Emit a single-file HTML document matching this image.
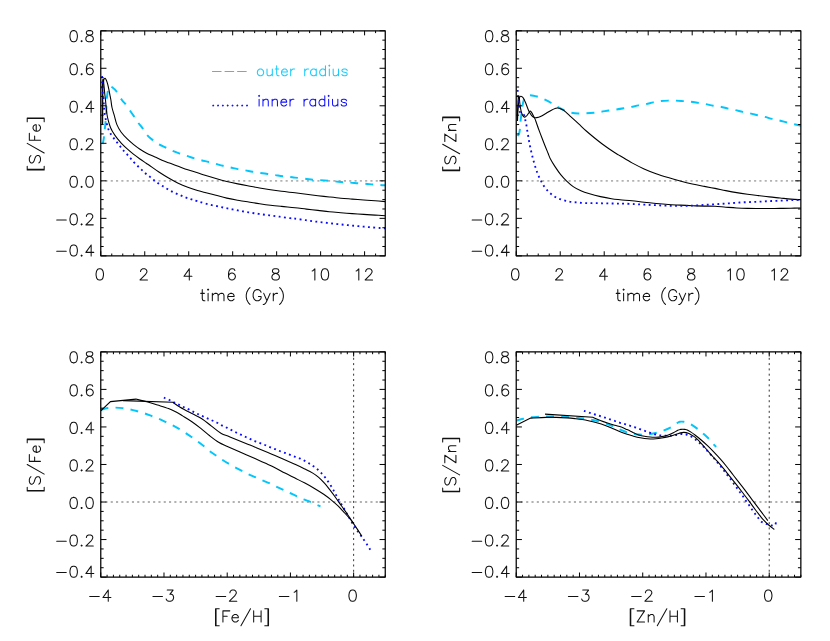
<!DOCTYPE html>
<html><head><meta charset="utf-8"><title>chart</title>
<style>html,body{margin:0;padding:0;background:#fff;font-family:"Liberation Sans",sans-serif}
svg{display:block}
.t{fill:none;stroke:#111;stroke-width:1.05;stroke-linecap:round;stroke-linejoin:round}
</style></head><body>
<svg width="830" height="641" viewBox="0 0 830 641">
<rect width="830" height="641" fill="#fff"/>
<path d="M100.77 180.83 H385.25" stroke="#b2b2b2" stroke-width="1.9" stroke-dasharray="2.1 3.2" stroke-dashoffset="0.65" fill="none"/>
<g clip-path="url(#c0)" fill="none">
<clipPath id="c0"><rect x="100.77" y="30.75" width="284.48" height="225.12"/></clipPath>
<path d="M102.70 144.00C102.88 143.07 103.47 140.73 103.80 138.40C104.13 136.07 104.42 132.65 104.70 130.00C104.98 127.35 105.25 125.17 105.50 122.50C105.75 119.83 106.00 117.75 106.20 114.00C106.40 110.25 106.47 103.58 106.70 100.00C106.93 96.42 107.28 94.50 107.60 92.50C107.92 90.50 108.23 89.05 108.60 88.00C108.97 86.95 109.35 86.43 109.80 86.20C110.25 85.97 110.63 86.20 111.30 86.60C111.97 87.00 112.93 87.78 113.80 88.60C114.67 89.42 115.15 89.60 116.50 91.50C117.85 93.40 120.47 97.97 121.90 100.00C123.33 102.03 123.78 101.98 125.10 103.70C126.42 105.42 128.32 108.18 129.80 110.30C131.28 112.42 132.58 114.30 134.00 116.40C135.42 118.50 136.88 120.95 138.30 122.90C139.72 124.85 141.03 126.07 142.50 128.10C143.97 130.13 145.38 133.10 147.10 135.10C148.82 137.10 150.83 138.57 152.80 140.10C154.77 141.63 156.75 143.07 158.90 144.30C161.05 145.53 163.45 146.42 165.70 147.50C167.95 148.58 170.08 149.80 172.40 150.80C174.72 151.80 177.18 152.65 179.60 153.50C182.02 154.35 184.57 155.13 186.90 155.90C189.23 156.67 191.20 157.38 193.60 158.10C196.00 158.82 198.77 159.55 201.30 160.20C203.83 160.85 206.37 161.38 208.80 162.00C211.23 162.62 213.53 163.27 215.90 163.90C218.27 164.53 220.53 165.20 223.00 165.80C225.47 166.40 228.23 166.95 230.70 167.50C233.17 168.05 235.35 168.62 237.80 169.10C240.25 169.58 242.92 169.95 245.40 170.40C247.88 170.85 250.23 171.38 252.70 171.80C255.17 172.22 257.68 172.53 260.20 172.90C262.72 173.27 265.27 173.63 267.80 174.00C270.33 174.37 272.90 174.73 275.40 175.10C277.90 175.47 280.33 175.88 282.80 176.20C285.27 176.52 288.17 176.77 290.20 177.00C292.23 177.23 292.48 177.32 295.00 177.60C297.52 177.88 302.35 178.35 305.30 178.70C308.25 179.05 310.18 179.47 312.70 179.70C315.22 179.93 317.82 179.93 320.40 180.10C322.98 180.27 325.67 180.48 328.20 180.70C330.73 180.92 333.12 181.15 335.60 181.40C338.08 181.65 340.58 182.00 343.10 182.20C345.62 182.40 348.22 182.42 350.70 182.60C353.18 182.78 355.52 183.12 358.00 183.30C360.48 183.48 363.08 183.50 365.60 183.70C368.12 183.90 370.65 184.30 373.10 184.50C375.55 184.70 378.25 184.75 380.30 184.90C382.35 185.05 384.55 185.32 385.40 185.40" stroke="#00c6fb" stroke-width="1.95" stroke-dasharray="7.9 7.19"/>
<path d="M102.65 124.00C102.66 121.67 102.68 114.83 102.70 110.00C102.72 105.17 102.74 99.17 102.80 95.00C102.86 90.83 102.92 87.45 103.05 85.00C103.18 82.55 103.39 81.35 103.60 80.30C103.81 79.25 104.07 79.03 104.30 78.70C104.53 78.37 104.72 78.17 105.00 78.30C105.28 78.43 105.68 78.93 106.00 79.50C106.32 80.07 106.55 80.63 106.90 81.70C107.25 82.77 107.75 84.50 108.10 85.90C108.45 87.30 108.70 88.62 109.00 90.10C109.30 91.58 109.58 93.15 109.90 94.80C110.22 96.45 110.55 97.88 110.90 100.00C111.25 102.12 111.42 104.85 112.00 107.50C112.58 110.15 113.58 113.05 114.40 115.90C115.22 118.75 115.77 121.88 116.90 124.60C118.03 127.32 119.43 129.77 121.20 132.20C122.97 134.63 125.42 137.13 127.50 139.20C129.58 141.27 131.62 142.93 133.70 144.60C135.78 146.27 137.92 147.82 140.00 149.20C142.08 150.58 143.70 151.60 146.20 152.90C148.70 154.20 152.37 155.78 155.00 157.00C157.63 158.22 159.73 159.23 162.00 160.20C164.27 161.17 165.90 161.78 168.60 162.80C171.30 163.82 175.00 165.13 178.20 166.30C181.40 167.47 184.58 168.72 187.80 169.80C191.02 170.88 194.63 171.88 197.50 172.80C200.37 173.72 201.93 174.33 205.00 175.30C208.07 176.27 212.27 177.57 215.90 178.60C219.53 179.63 223.15 180.62 226.80 181.50C230.45 182.38 234.15 183.15 237.80 183.90C241.45 184.65 245.07 185.32 248.70 186.00C252.33 186.68 255.97 187.37 259.60 188.00C263.23 188.63 266.85 189.25 270.50 189.80C274.15 190.35 277.42 190.80 281.50 191.30C285.58 191.80 290.85 192.32 295.00 192.80C299.15 193.28 302.58 193.72 306.40 194.20C310.22 194.68 314.08 195.23 317.90 195.70C321.72 196.17 325.48 196.58 329.30 197.00C333.12 197.42 336.98 197.85 340.80 198.20C344.62 198.55 348.38 198.80 352.20 199.10C356.02 199.40 359.88 199.72 363.70 200.00C367.52 200.28 371.48 200.53 375.10 200.80C378.72 201.07 383.68 201.47 385.40 201.60" stroke="#000" stroke-width="1.08"/>
<path d="M102.20 124.00C102.21 121.67 102.23 114.83 102.25 110.00C102.27 105.17 102.27 99.00 102.30 95.00C102.33 91.00 102.33 88.40 102.40 86.00C102.47 83.60 102.60 81.75 102.70 80.60C102.80 79.45 102.90 79.33 103.00 79.10C103.10 78.87 103.20 78.88 103.30 79.20C103.40 79.52 103.52 80.20 103.60 81.00C103.68 81.80 103.68 82.72 103.80 84.00C103.92 85.28 104.13 86.98 104.30 88.70C104.47 90.42 104.60 92.42 104.80 94.30C105.00 96.18 105.30 98.12 105.50 100.00C105.70 101.88 105.77 103.27 106.00 105.60C106.23 107.93 106.52 111.50 106.90 114.00C107.28 116.50 107.68 118.30 108.30 120.60C108.92 122.90 109.82 125.85 110.60 127.80C111.38 129.75 112.27 131.03 113.00 132.30C113.73 133.57 114.17 134.23 115.00 135.40C115.83 136.57 116.97 138.02 118.00 139.30C119.03 140.58 119.62 141.45 121.20 143.10C122.78 144.75 125.42 147.32 127.50 149.20C129.58 151.08 131.62 152.77 133.70 154.40C135.78 156.03 137.92 157.53 140.00 159.00C142.08 160.47 144.65 162.15 146.20 163.20C147.75 164.25 147.18 163.83 149.30 165.30C151.42 166.77 155.68 169.88 158.90 172.00C162.12 174.12 165.38 176.13 168.60 178.00C171.82 179.87 175.00 181.67 178.20 183.20C181.40 184.73 184.58 186.00 187.80 187.20C191.02 188.40 194.63 189.53 197.50 190.40C200.37 191.27 201.93 191.58 205.00 192.40C208.07 193.22 212.27 194.35 215.90 195.30C219.53 196.25 223.15 197.28 226.80 198.10C230.45 198.92 234.15 199.55 237.80 200.20C241.45 200.85 245.07 201.42 248.70 202.00C252.33 202.58 255.97 203.17 259.60 203.70C263.23 204.23 266.85 204.75 270.50 205.20C274.15 205.65 277.42 205.98 281.50 206.40C285.58 206.82 290.85 207.25 295.00 207.70C299.15 208.15 302.58 208.65 306.40 209.10C310.22 209.55 314.08 209.97 317.90 210.40C321.72 210.83 325.48 211.32 329.30 211.70C333.12 212.08 336.98 212.38 340.80 212.70C344.62 213.02 348.38 213.32 352.20 213.60C356.02 213.88 359.88 214.15 363.70 214.40C367.52 214.65 371.48 214.88 375.10 215.10C378.72 215.32 383.68 215.60 385.40 215.70" stroke="#000" stroke-width="1.08"/>
<path d="M102.08 76.08C102.09 76.23 102.08 75.93 102.10 77.00C102.12 78.07 102.17 80.70 102.20 82.50C102.23 84.30 102.22 86.07 102.30 87.80C102.38 89.53 102.50 91.15 102.70 92.90C102.90 94.65 103.32 96.50 103.50 98.30C103.68 100.10 103.70 101.93 103.80 103.70C103.90 105.47 103.97 107.18 104.10 108.90C104.23 110.62 104.33 112.28 104.60 114.00C104.87 115.72 105.32 117.48 105.70 119.20C106.08 120.92 106.43 122.58 106.90 124.30C107.37 126.02 107.83 127.85 108.50 129.50C109.17 131.15 110.00 132.72 110.90 134.20C111.80 135.68 112.85 137.00 113.90 138.40C114.95 139.80 116.10 141.20 117.20 142.60C118.30 144.00 119.38 145.40 120.50 146.80C121.62 148.20 122.73 149.67 123.90 151.00C125.07 152.33 126.32 153.50 127.50 154.80C128.68 156.10 129.87 157.48 131.00 158.80C132.13 160.12 133.10 161.42 134.30 162.70C135.50 163.98 136.92 165.27 138.20 166.50C139.48 167.73 140.72 168.90 142.00 170.10C143.28 171.30 144.57 172.57 145.90 173.70C147.23 174.83 148.63 175.80 150.00 176.90C151.37 178.00 152.70 179.22 154.10 180.30C155.50 181.38 156.92 182.40 158.40 183.40C159.88 184.40 161.50 185.37 163.00 186.30C164.50 187.23 165.88 188.12 167.40 189.00C168.92 189.88 170.52 190.80 172.10 191.60C173.68 192.40 175.28 193.08 176.90 193.80C178.52 194.52 180.17 195.23 181.80 195.90C183.43 196.57 185.05 197.22 186.70 197.80C188.35 198.38 189.82 198.80 191.70 199.40C193.58 200.00 195.52 200.65 198.00 201.40C200.48 202.15 203.43 203.10 206.60 203.90C209.77 204.70 213.53 205.45 217.00 206.20C220.47 206.95 223.93 207.70 227.40 208.40C230.87 209.10 234.32 209.75 237.80 210.40C241.28 211.05 244.82 211.72 248.30 212.30C251.78 212.88 255.22 213.40 258.70 213.90C262.18 214.40 265.70 214.83 269.20 215.30C272.70 215.77 276.20 216.22 279.70 216.70C283.20 217.18 287.65 217.88 290.20 218.20C292.75 218.52 292.38 218.27 295.00 218.60C297.62 218.93 302.32 219.68 305.90 220.20C309.48 220.72 312.98 221.25 316.50 221.70C320.02 222.15 323.48 222.50 327.00 222.90C330.52 223.30 334.08 223.72 337.60 224.10C341.12 224.48 344.60 224.85 348.10 225.20C351.60 225.55 355.08 225.87 358.60 226.20C362.12 226.53 365.68 226.90 369.20 227.20C372.72 227.50 377.00 227.80 379.70 228.00C382.40 228.20 384.29 228.32 385.40 228.40C386.51 228.48 386.19 228.46 386.35 228.47" stroke="#0a0aff" stroke-width="1.85" stroke-dasharray="1.85 3.44"/>
</g>
<path d="M100.77 255.87v-4.60M100.77 30.75v4.60M111.76 255.87v-2.35M111.76 30.75v2.35M122.75 255.87v-2.35M122.75 30.75v2.35M133.75 255.87v-2.35M133.75 30.75v2.35M144.74 255.87v-4.60M144.74 30.75v4.60M155.73 255.87v-2.35M155.73 30.75v2.35M166.72 255.87v-2.35M166.72 30.75v2.35M177.72 255.87v-2.35M177.72 30.75v2.35M188.71 255.87v-4.60M188.71 30.75v4.60M199.70 255.87v-2.35M199.70 30.75v2.35M210.69 255.87v-2.35M210.69 30.75v2.35M221.68 255.87v-2.35M221.68 30.75v2.35M232.68 255.87v-4.60M232.68 30.75v4.60M243.67 255.87v-2.35M243.67 30.75v2.35M254.66 255.87v-2.35M254.66 30.75v2.35M265.65 255.87v-2.35M265.65 30.75v2.35M276.65 255.87v-4.60M276.65 30.75v4.60M287.64 255.87v-2.35M287.64 30.75v2.35M298.63 255.87v-2.35M298.63 30.75v2.35M309.62 255.87v-2.35M309.62 30.75v2.35M320.62 255.87v-4.60M320.62 30.75v4.60M331.61 255.87v-2.35M331.61 30.75v2.35M342.60 255.87v-2.35M342.60 30.75v2.35M353.59 255.87v-2.35M353.59 30.75v2.35M364.58 255.87v-4.60M364.58 30.75v4.60M375.58 255.87v-2.35M375.58 30.75v2.35M100.77 255.87h5.70M385.25 255.87h-5.70M100.77 246.49h2.90M385.25 246.49h-2.90M100.77 237.11h2.90M385.25 237.11h-2.90M100.77 227.73h2.90M385.25 227.73h-2.90M100.77 218.35h5.70M385.25 218.35h-5.70M100.77 208.97h2.90M385.25 208.97h-2.90M100.77 199.59h2.90M385.25 199.59h-2.90M100.77 190.21h2.90M385.25 190.21h-2.90M100.77 180.83h5.70M385.25 180.83h-5.70M100.77 171.45h2.90M385.25 171.45h-2.90M100.77 162.07h2.90M385.25 162.07h-2.90M100.77 152.69h2.90M385.25 152.69h-2.90M100.77 143.31h5.70M385.25 143.31h-5.70M100.77 133.93h2.90M385.25 133.93h-2.90M100.77 124.55h2.90M385.25 124.55h-2.90M100.77 115.17h2.90M385.25 115.17h-2.90M100.77 105.79h5.70M385.25 105.79h-5.70M100.77 96.41h2.90M385.25 96.41h-2.90M100.77 87.03h2.90M385.25 87.03h-2.90M100.77 77.65h2.90M385.25 77.65h-2.90M100.77 68.27h5.70M385.25 68.27h-5.70M100.77 58.89h2.90M385.25 58.89h-2.90M100.77 49.51h2.90M385.25 49.51h-2.90M100.77 40.13h2.90M385.25 40.13h-2.90M100.77 30.75h5.70M385.25 30.75h-5.70" stroke="#000" stroke-width="1.00" fill="none"/>
<rect x="100.77" y="30.75" width="284.48" height="225.12" fill="none" stroke="#000" stroke-width="1.25" stroke-linejoin="round"/>
<path d="M99.24 268.84L97.65 269.37L96.59 270.96L96.06 273.61L96.06 275.20L96.59 277.85L97.65 279.44L99.24 279.97L100.30 279.97L101.89 279.44L102.95 277.85L103.48 275.20L103.48 273.61L102.95 270.96L101.89 269.37L100.30 268.84L99.24 268.84M140.56 271.49L140.56 270.96L141.09 269.90L141.62 269.37L142.68 268.84L144.80 268.84L145.86 269.37L146.39 269.90L146.92 270.96L146.92 272.02L146.39 273.08L145.33 274.67L140.03 279.97L147.45 279.97M189.30 268.84L184.00 276.26L191.95 276.26M189.30 268.84L189.30 279.97M234.86 270.43L234.33 269.37L232.74 268.84L231.68 268.84L230.09 269.37L229.03 270.96L228.50 273.61L228.50 276.26L229.03 278.38L230.09 279.44L231.68 279.97L232.21 279.97L233.80 279.44L234.86 278.38L235.39 276.79L235.39 276.26L234.86 274.67L233.80 273.61L232.21 273.08L231.68 273.08L230.09 273.61L229.03 274.67L228.50 276.26M274.59 268.84L273.00 269.37L272.47 270.43L272.47 271.49L273.00 272.55L274.06 273.08L276.18 273.61L277.77 274.14L278.83 275.20L279.36 276.26L279.36 277.85L278.83 278.91L278.30 279.44L276.71 279.97L274.59 279.97L273.00 279.44L272.47 278.91L271.94 277.85L271.94 276.26L272.47 275.20L273.53 274.14L275.12 273.61L277.24 273.08L278.30 272.55L278.83 271.49L278.83 270.43L278.30 269.37L276.71 268.84L274.59 268.84M312.20 270.96L313.26 270.43L314.85 268.84L314.85 279.97M324.39 268.84L322.80 269.37L321.74 270.96L321.21 273.61L321.21 275.20L321.74 277.85L322.80 279.44L324.39 279.97L325.45 279.97L327.04 279.44L328.10 277.85L328.63 275.20L328.63 273.61L328.10 270.96L327.04 269.37L325.45 268.84L324.39 268.84M356.16 270.96L357.22 270.43L358.81 268.84L358.81 279.97M365.70 271.49L365.70 270.96L366.23 269.90L366.76 269.37L367.82 268.84L369.94 268.84L371.00 269.37L371.53 269.90L372.06 270.96L372.06 272.02L371.53 273.08L370.47 274.67L365.17 279.97L372.59 279.97M73.14 30.62L71.55 31.15L70.49 32.74L69.96 35.39L69.96 36.98L70.49 39.63L71.55 41.22L73.14 41.75L74.20 41.75L75.79 41.22L76.85 39.63L77.38 36.98L77.38 35.39L76.85 32.74L75.79 31.15L74.20 30.62L73.14 30.62M81.62 40.69L81.09 41.22L81.62 41.75L82.15 41.22L81.62 40.69M88.51 30.62L86.92 31.15L86.39 32.21L86.39 33.27L86.92 34.33L87.98 34.86L90.10 35.39L91.69 35.92L92.75 36.98L93.28 38.04L93.28 39.63L92.75 40.69L92.22 41.22L90.63 41.75L88.51 41.75L86.92 41.22L86.39 40.69L85.86 39.63L85.86 38.04L86.39 36.98L87.45 35.92L89.04 35.39L91.16 34.86L92.22 34.33L92.75 33.27L92.75 32.21L92.22 31.15L90.63 30.62L88.51 30.62M73.14 63.64L71.55 64.17L70.49 65.76L69.96 68.41L69.96 70.00L70.49 72.65L71.55 74.24L73.14 74.77L74.20 74.77L75.79 74.24L76.85 72.65L77.38 70.00L77.38 68.41L76.85 65.76L75.79 64.17L74.20 63.64L73.14 63.64M81.62 73.71L81.09 74.24L81.62 74.77L82.15 74.24L81.62 73.71M92.75 65.23L92.22 64.17L90.63 63.64L89.57 63.64L87.98 64.17L86.92 65.76L86.39 68.41L86.39 71.06L86.92 73.18L87.98 74.24L89.57 74.77L90.10 74.77L91.69 74.24L92.75 73.18L93.28 71.59L93.28 71.06L92.75 69.47L91.69 68.41L90.10 67.88L89.57 67.88L87.98 68.41L86.92 69.47L86.39 71.06M73.14 101.16L71.55 101.69L70.49 103.28L69.96 105.93L69.96 107.52L70.49 110.17L71.55 111.76L73.14 112.29L74.20 112.29L75.79 111.76L76.85 110.17L77.38 107.52L77.38 105.93L76.85 103.28L75.79 101.69L74.20 101.16L73.14 101.16M81.62 111.23L81.09 111.76L81.62 112.29L82.15 111.76L81.62 111.23M91.16 101.16L85.86 108.58L93.81 108.58M91.16 101.16L91.16 112.29M73.14 138.68L71.55 139.21L70.49 140.80L69.96 143.45L69.96 145.04L70.49 147.69L71.55 149.28L73.14 149.81L74.20 149.81L75.79 149.28L76.85 147.69L77.38 145.04L77.38 143.45L76.85 140.80L75.79 139.21L74.20 138.68L73.14 138.68M81.62 148.75L81.09 149.28L81.62 149.81L82.15 149.28L81.62 148.75M86.39 141.33L86.39 140.80L86.92 139.74L87.45 139.21L88.51 138.68L90.63 138.68L91.69 139.21L92.22 139.74L92.75 140.80L92.75 141.86L92.22 142.92L91.16 144.51L85.86 149.81L93.28 149.81M73.14 176.20L71.55 176.73L70.49 178.32L69.96 180.97L69.96 182.56L70.49 185.21L71.55 186.80L73.14 187.33L74.20 187.33L75.79 186.80L76.85 185.21L77.38 182.56L77.38 180.97L76.85 178.32L75.79 176.73L74.20 176.20L73.14 176.20M81.62 186.27L81.09 186.80L81.62 187.33L82.15 186.80L81.62 186.27M89.04 176.20L87.45 176.73L86.39 178.32L85.86 180.97L85.86 182.56L86.39 185.21L87.45 186.80L89.04 187.33L90.10 187.33L91.69 186.80L92.75 185.21L93.28 182.56L93.28 180.97L92.75 178.32L91.69 176.73L90.10 176.20L89.04 176.20M56.71 220.08L66.25 220.08M73.14 213.72L71.55 214.25L70.49 215.84L69.96 218.49L69.96 220.08L70.49 222.73L71.55 224.32L73.14 224.85L74.20 224.85L75.79 224.32L76.85 222.73L77.38 220.08L77.38 218.49L76.85 215.84L75.79 214.25L74.20 213.72L73.14 213.72M81.62 223.79L81.09 224.32L81.62 224.85L82.15 224.32L81.62 223.79M86.39 216.37L86.39 215.84L86.92 214.78L87.45 214.25L88.51 213.72L90.63 213.72L91.69 214.25L92.22 214.78L92.75 215.84L92.75 216.90L92.22 217.96L91.16 219.55L85.86 224.85L93.28 224.85M56.71 251.30L66.25 251.30M73.14 244.94L71.55 245.47L70.49 247.06L69.96 249.71L69.96 251.30L70.49 253.95L71.55 255.54L73.14 256.07L74.20 256.07L75.79 255.54L76.85 253.95L77.38 251.30L77.38 249.71L76.85 247.06L75.79 245.47L74.20 244.94L73.14 244.94M81.62 255.01L81.09 255.54L81.62 256.07L82.15 255.54L81.62 255.01M91.16 244.94L85.86 252.36L93.81 252.36M91.16 244.94L91.16 256.07M202.26 289.64L202.26 298.65L202.79 300.24L203.85 300.77L204.91 300.77M200.67 293.35L204.38 293.35M207.56 289.64L208.09 290.17L208.62 289.64L208.09 289.11L207.56 289.64M208.09 293.35L208.09 300.77M212.33 293.35L212.33 300.77M212.33 295.47L213.92 293.88L214.98 293.35L216.57 293.35L217.63 293.88L218.16 295.47L218.16 300.77M218.16 295.47L219.75 293.88L220.81 293.35L222.40 293.35L223.46 293.88L223.99 295.47L223.99 300.77M227.70 296.53L234.06 296.53L234.06 295.47L233.53 294.41L233.00 293.88L231.94 293.35L230.35 293.35L229.29 293.88L228.23 294.94L227.70 296.53L227.70 297.59L228.23 299.18L229.29 300.24L230.35 300.77L231.94 300.77L233.00 300.24L234.06 299.18M249.96 287.52L248.90 288.58L247.84 290.17L246.78 292.29L246.25 294.94L246.25 297.06L246.78 299.71L247.84 301.83L248.90 303.42L249.96 304.48M261.09 292.29L260.56 291.23L259.50 290.17L258.44 289.64L256.32 289.64L255.26 290.17L254.20 291.23L253.67 292.29L253.14 293.88L253.14 296.53L253.67 298.12L254.20 299.18L255.26 300.24L256.32 300.77L258.44 300.77L259.50 300.24L260.56 299.18L261.09 298.12L261.09 296.53M258.44 296.53L261.09 296.53M263.74 293.35L266.92 300.77M270.10 293.35L266.92 300.77L265.86 302.89L264.80 303.95L263.74 304.48L263.21 304.48M273.28 293.35L273.28 300.77M273.28 296.53L273.81 294.94L274.87 293.88L275.93 293.35L277.52 293.35M279.64 287.52L280.70 288.58L281.76 290.17L282.82 292.29L283.35 294.94L283.35 297.06L282.82 299.71L281.76 301.83L280.70 303.42L279.64 304.48" class="t"/>
<path transform="translate(40.47 143.91) rotate(-90)" d="M-25.97 -13.25L-25.97 3.71M-25.44 -13.25L-25.44 3.71M-25.97 -13.25L-22.26 -13.25M-25.97 3.71L-22.26 3.71M-11.66 -9.54L-12.72 -10.60L-14.31 -11.13L-16.43 -11.13L-18.02 -10.60L-19.08 -9.54L-19.08 -8.48L-18.55 -7.42L-18.02 -6.89L-16.96 -6.36L-13.78 -5.30L-12.72 -4.77L-12.19 -4.24L-11.66 -3.18L-11.66 -1.59L-12.72 -0.53L-14.31 0.00L-16.43 0.00L-18.02 -0.53L-19.08 -1.59M0.53 -13.25L-9.01 3.71M3.71 -11.13L3.71 0.00M3.71 -11.13L10.60 -11.13M3.71 -5.83L7.95 -5.83M12.72 -4.24L19.08 -4.24L19.08 -5.30L18.55 -6.36L18.02 -6.89L16.96 -7.42L15.37 -7.42L14.31 -6.89L13.25 -5.83L12.72 -4.24L12.72 -3.18L13.25 -1.59L14.31 -0.53L15.37 0.00L16.96 0.00L18.02 -0.53L19.08 -1.59M25.44 -13.25L25.44 3.71M25.97 -13.25L25.97 3.71M22.26 -13.25L25.97 -13.25M22.26 3.71L25.97 3.71" class="t"/>
<path d="M516.23 180.83 H800.85" stroke="#b2b2b2" stroke-width="1.9" stroke-dasharray="2.1 3.2" stroke-dashoffset="0.65" fill="none"/>
<g clip-path="url(#c1)" fill="none">
<clipPath id="c1"><rect x="516.23" y="30.75" width="284.62" height="225.12"/></clipPath>
<path d="M517.40 135.90C517.65 135.63 518.48 135.40 518.90 134.30C519.32 133.20 519.63 131.45 519.90 129.30C520.17 127.15 520.25 123.88 520.50 121.40C520.75 118.92 521.08 116.93 521.40 114.40C521.72 111.87 521.98 108.65 522.40 106.20C522.82 103.75 523.30 101.27 523.90 99.70C524.50 98.13 525.32 97.48 526.00 96.80C526.68 96.12 527.30 95.85 528.00 95.60C528.70 95.35 529.28 95.28 530.20 95.30C531.12 95.32 532.37 95.50 533.50 95.70C534.63 95.90 535.75 96.13 537.00 96.50C538.25 96.87 539.77 97.43 541.00 97.90C542.23 98.37 542.68 98.45 544.40 99.30C546.12 100.15 549.13 101.73 551.30 103.00C553.47 104.27 555.30 105.70 557.40 106.90C559.50 108.10 561.63 109.25 563.90 110.20C566.17 111.15 568.53 112.05 571.00 112.60C573.47 113.15 576.18 113.38 578.70 113.50C581.22 113.62 583.55 113.43 586.10 113.30C588.65 113.17 591.50 112.95 594.00 112.70C596.50 112.45 598.65 112.17 601.10 111.80C603.55 111.43 606.18 110.88 608.70 110.50C611.22 110.12 613.70 109.87 616.20 109.50C618.70 109.13 621.18 108.73 623.70 108.30C626.22 107.87 628.83 107.38 631.30 106.90C633.77 106.42 636.03 105.87 638.50 105.40C640.97 104.93 643.63 104.60 646.10 104.10C648.57 103.60 650.85 102.90 653.30 102.40C655.75 101.90 658.30 101.40 660.80 101.10C663.30 100.80 665.80 100.68 668.30 100.60C670.80 100.52 673.30 100.52 675.80 100.60C678.30 100.68 680.78 100.92 683.30 101.10C685.82 101.28 688.38 101.40 690.90 101.70C693.42 102.00 695.93 102.50 698.40 102.90C700.87 103.30 703.23 103.63 705.70 104.10C708.17 104.57 710.72 105.27 713.20 105.70C715.68 106.13 718.12 106.22 720.60 106.70C723.08 107.18 725.65 108.03 728.10 108.60C730.55 109.17 732.85 109.55 735.30 110.10C737.75 110.65 740.33 111.35 742.80 111.90C745.27 112.45 747.63 112.85 750.10 113.40C752.57 113.95 755.15 114.62 757.60 115.20C760.05 115.78 762.35 116.28 764.80 116.90C767.25 117.52 769.85 118.30 772.30 118.90C774.75 119.50 777.03 119.90 779.50 120.50C781.97 121.10 784.63 121.87 787.10 122.50C789.57 123.13 791.98 123.77 794.30 124.30C796.62 124.83 799.88 125.47 801.00 125.70" stroke="#00c6fb" stroke-width="1.95" stroke-dasharray="7.9 7.19"/>
<path d="M517.30 121.00C517.35 119.17 517.47 113.50 517.60 110.00C517.73 106.50 517.95 102.20 518.10 100.00C518.25 97.80 518.37 97.48 518.50 96.80C518.63 96.12 518.77 95.78 518.90 95.90C519.03 96.02 519.13 96.20 519.30 97.50C519.47 98.80 519.60 101.42 519.90 103.70C520.20 105.98 520.63 109.22 521.10 111.20C521.57 113.18 522.13 114.62 522.70 115.60C523.27 116.58 523.95 116.97 524.50 117.10C525.05 117.23 525.52 116.75 526.00 116.40C526.48 116.05 526.77 115.82 527.40 115.00C528.03 114.18 529.27 112.12 529.80 111.50C530.33 110.88 530.23 111.03 530.60 111.30C530.97 111.57 531.50 112.28 532.00 113.10C532.50 113.92 533.10 115.23 533.60 116.20C534.10 117.17 534.48 117.65 535.00 118.90C535.52 120.15 536.15 122.15 536.70 123.70C537.25 125.25 537.48 125.98 538.30 128.20C539.12 130.42 540.52 134.17 541.60 137.00C542.68 139.83 543.72 142.48 544.80 145.20C545.88 147.92 547.18 151.05 548.10 153.30C549.02 155.55 549.12 156.43 550.30 158.70C551.48 160.97 553.47 164.25 555.20 166.90C556.93 169.55 558.78 172.23 560.70 174.60C562.62 176.97 564.62 179.10 566.70 181.10C568.78 183.10 570.83 184.98 573.20 186.60C575.57 188.22 578.17 189.60 580.90 190.80C583.63 192.00 586.33 192.83 589.60 193.80C592.87 194.77 596.85 195.78 600.50 196.60C604.15 197.42 608.25 198.18 611.50 198.70C614.75 199.22 616.58 199.35 620.00 199.70C623.42 200.05 627.98 200.37 632.00 200.80C636.02 201.23 640.08 201.85 644.10 202.30C648.12 202.75 652.08 203.13 656.10 203.50C660.12 203.87 664.18 204.23 668.20 204.50C672.22 204.77 676.18 204.90 680.20 205.10C684.22 205.30 688.28 205.53 692.30 205.70C696.32 205.87 700.52 206.00 704.30 206.10C708.08 206.20 711.42 206.12 715.00 206.30C718.58 206.48 722.18 206.92 725.80 207.20C729.42 207.48 733.08 207.80 736.70 208.00C740.32 208.20 743.88 208.32 747.50 208.40C751.12 208.48 754.78 208.48 758.40 208.50C762.02 208.52 765.58 208.52 769.20 208.50C772.82 208.48 776.48 208.45 780.10 208.40C783.72 208.35 787.43 208.27 790.90 208.20C794.37 208.13 799.23 208.03 800.90 208.00" stroke="#000" stroke-width="1.08"/>
<path d="M517.50 121.00C517.58 119.17 517.78 113.33 518.00 110.00C518.22 106.67 518.53 103.12 518.80 101.00C519.07 98.88 519.27 98.10 519.60 97.30C519.93 96.50 520.37 96.28 520.80 96.20C521.23 96.12 521.73 96.43 522.20 96.80C522.67 97.17 523.05 97.45 523.60 98.40C524.15 99.35 524.87 100.98 525.50 102.50C526.13 104.02 526.78 105.95 527.40 107.50C528.02 109.05 528.48 110.45 529.20 111.80C529.92 113.15 530.87 114.67 531.70 115.60C532.53 116.53 533.37 117.07 534.20 117.40C535.03 117.73 535.65 117.75 536.70 117.60C537.75 117.45 538.97 117.18 540.50 116.50C542.03 115.82 544.08 114.55 545.90 113.50C547.72 112.45 549.75 111.07 551.40 110.20C553.05 109.33 554.72 108.67 555.80 108.30C556.88 107.93 557.00 107.87 557.90 108.00C558.80 108.13 559.92 108.47 561.20 109.10C562.48 109.73 563.97 110.52 565.60 111.80C567.23 113.08 568.82 114.78 571.00 116.80C573.18 118.82 576.15 121.53 578.70 123.90C581.25 126.27 583.75 128.73 586.30 131.00C588.85 133.27 591.45 135.42 594.00 137.50C596.55 139.58 599.05 141.58 601.60 143.50C604.15 145.42 606.75 147.25 609.30 149.00C611.85 150.75 615.12 152.88 616.90 154.00C618.68 155.12 617.48 154.22 620.00 155.70C622.52 157.18 627.98 160.70 632.00 162.90C636.02 165.10 640.08 167.10 644.10 168.90C648.12 170.70 652.08 172.25 656.10 173.70C660.12 175.15 664.18 176.38 668.20 177.60C672.22 178.82 676.18 179.93 680.20 181.00C684.22 182.07 688.28 183.10 692.30 184.00C696.32 184.90 700.52 185.67 704.30 186.40C708.08 187.13 711.42 187.70 715.00 188.40C718.58 189.10 722.18 189.90 725.80 190.60C729.42 191.30 733.08 192.00 736.70 192.60C740.32 193.20 743.88 193.70 747.50 194.20C751.12 194.70 754.78 195.15 758.40 195.60C762.02 196.05 765.58 196.50 769.20 196.90C772.82 197.30 776.48 197.63 780.10 198.00C783.72 198.37 787.43 198.80 790.90 199.10C794.37 199.40 799.23 199.68 800.90 199.80" stroke="#000" stroke-width="1.08"/>
<path d="M517.66 89.98C517.67 90.13 517.66 89.88 517.70 90.90C517.74 91.92 517.73 94.37 517.90 96.10C518.07 97.83 518.48 99.57 518.70 101.30C518.92 103.03 519.00 104.75 519.20 106.50C519.40 108.25 519.37 110.63 519.90 111.80C520.43 112.97 521.63 112.82 522.40 113.50C523.17 114.18 523.98 114.65 524.50 115.90C525.02 117.15 525.15 119.28 525.50 121.00C525.85 122.72 526.28 124.47 526.60 126.20C526.92 127.93 527.12 129.67 527.40 131.40C527.68 133.13 528.00 134.87 528.30 136.60C528.60 138.33 528.88 140.07 529.20 141.80C529.52 143.53 529.85 145.30 530.20 147.00C530.55 148.70 530.90 150.30 531.30 152.00C531.70 153.70 532.15 155.47 532.60 157.20C533.05 158.93 533.52 160.68 534.00 162.40C534.48 164.12 534.97 165.83 535.50 167.50C536.03 169.17 536.58 170.77 537.20 172.40C537.82 174.03 538.47 175.70 539.20 177.30C539.93 178.90 540.75 180.45 541.60 182.00C542.45 183.55 543.30 185.15 544.30 186.60C545.30 188.05 546.42 189.43 547.60 190.70C548.78 191.97 550.03 193.12 551.40 194.20C552.77 195.28 554.25 196.33 555.80 197.20C557.35 198.07 559.03 198.80 560.70 199.40C562.37 200.00 564.08 200.38 565.80 200.80C567.52 201.22 569.25 201.63 571.00 201.90C572.75 202.17 574.55 202.23 576.30 202.40C578.05 202.57 579.75 202.78 581.50 202.90C583.25 203.02 585.05 203.05 586.80 203.10C588.55 203.15 590.25 203.18 592.00 203.20C593.75 203.22 595.55 203.18 597.30 203.20C599.05 203.22 600.77 203.27 602.50 203.30C604.23 203.33 605.95 203.37 607.70 203.40C609.45 203.43 611.25 203.47 613.00 203.50C614.75 203.53 616.43 203.58 618.20 203.60C619.97 203.62 620.93 203.52 623.60 203.60C626.27 203.68 630.65 203.92 634.20 204.10C637.75 204.28 641.35 204.52 644.90 204.70C648.45 204.88 651.97 205.03 655.50 205.20C659.03 205.37 662.58 205.58 666.10 205.70C669.62 205.82 673.08 205.88 676.60 205.90C680.12 205.92 683.68 205.90 687.20 205.80C690.72 205.70 694.18 205.48 697.70 205.30C701.22 205.12 704.75 204.92 708.30 204.70C711.85 204.48 715.48 204.23 719.00 204.00C722.52 203.77 725.90 203.55 729.40 203.30C732.90 203.05 736.47 202.72 740.00 202.50C743.53 202.28 747.08 202.15 750.60 202.00C754.12 201.85 757.58 201.77 761.10 201.60C764.62 201.43 768.18 201.17 771.70 201.00C775.22 200.83 778.67 200.75 782.20 200.60C785.73 200.45 789.78 200.22 792.90 200.10C796.02 199.98 799.57 199.93 800.90 199.90" stroke="#0a0aff" stroke-width="1.85" stroke-dasharray="1.85 3.44"/>
</g>
<path d="M516.23 255.87v-4.60M516.23 30.75v4.60M527.23 255.87v-2.35M527.23 30.75v2.35M538.23 255.87v-2.35M538.23 30.75v2.35M549.22 255.87v-2.35M549.22 30.75v2.35M560.22 255.87v-4.60M560.22 30.75v4.60M571.22 255.87v-2.35M571.22 30.75v2.35M582.22 255.87v-2.35M582.22 30.75v2.35M593.21 255.87v-2.35M593.21 30.75v2.35M604.21 255.87v-4.60M604.21 30.75v4.60M615.21 255.87v-2.35M615.21 30.75v2.35M626.21 255.87v-2.35M626.21 30.75v2.35M637.20 255.87v-2.35M637.20 30.75v2.35M648.20 255.87v-4.60M648.20 30.75v4.60M659.20 255.87v-2.35M659.20 30.75v2.35M670.20 255.87v-2.35M670.20 30.75v2.35M681.20 255.87v-2.35M681.20 30.75v2.35M692.19 255.87v-4.60M692.19 30.75v4.60M703.19 255.87v-2.35M703.19 30.75v2.35M714.19 255.87v-2.35M714.19 30.75v2.35M725.19 255.87v-2.35M725.19 30.75v2.35M736.18 255.87v-4.60M736.18 30.75v4.60M747.18 255.87v-2.35M747.18 30.75v2.35M758.18 255.87v-2.35M758.18 30.75v2.35M769.18 255.87v-2.35M769.18 30.75v2.35M780.17 255.87v-4.60M780.17 30.75v4.60M791.17 255.87v-2.35M791.17 30.75v2.35M516.23 255.87h5.70M800.85 255.87h-5.70M516.23 246.49h2.90M800.85 246.49h-2.90M516.23 237.11h2.90M800.85 237.11h-2.90M516.23 227.73h2.90M800.85 227.73h-2.90M516.23 218.35h5.70M800.85 218.35h-5.70M516.23 208.97h2.90M800.85 208.97h-2.90M516.23 199.59h2.90M800.85 199.59h-2.90M516.23 190.21h2.90M800.85 190.21h-2.90M516.23 180.83h5.70M800.85 180.83h-5.70M516.23 171.45h2.90M800.85 171.45h-2.90M516.23 162.07h2.90M800.85 162.07h-2.90M516.23 152.69h2.90M800.85 152.69h-2.90M516.23 143.31h5.70M800.85 143.31h-5.70M516.23 133.93h2.90M800.85 133.93h-2.90M516.23 124.55h2.90M800.85 124.55h-2.90M516.23 115.17h2.90M800.85 115.17h-2.90M516.23 105.79h5.70M800.85 105.79h-5.70M516.23 96.41h2.90M800.85 96.41h-2.90M516.23 87.03h2.90M800.85 87.03h-2.90M516.23 77.65h2.90M800.85 77.65h-2.90M516.23 68.27h5.70M800.85 68.27h-5.70M516.23 58.89h2.90M800.85 58.89h-2.90M516.23 49.51h2.90M800.85 49.51h-2.90M516.23 40.13h2.90M800.85 40.13h-2.90M516.23 30.75h5.70M800.85 30.75h-5.70" stroke="#000" stroke-width="1.00" fill="none"/>
<rect x="516.23" y="30.75" width="284.62" height="225.12" fill="none" stroke="#000" stroke-width="1.25" stroke-linejoin="round"/>
<path d="M514.70 268.84L513.11 269.37L512.05 270.96L511.52 273.61L511.52 275.20L512.05 277.85L513.11 279.44L514.70 279.97L515.76 279.97L517.35 279.44L518.41 277.85L518.94 275.20L518.94 273.61L518.41 270.96L517.35 269.37L515.76 268.84L514.70 268.84M556.04 271.49L556.04 270.96L556.57 269.90L557.10 269.37L558.16 268.84L560.28 268.84L561.34 269.37L561.87 269.90L562.40 270.96L562.40 272.02L561.87 273.08L560.81 274.67L555.51 279.97L562.93 279.97M604.80 268.84L599.50 276.26L607.45 276.26M604.80 268.84L604.80 279.97M650.38 270.43L649.85 269.37L648.26 268.84L647.20 268.84L645.61 269.37L644.55 270.96L644.02 273.61L644.02 276.26L644.55 278.38L645.61 279.44L647.20 279.97L647.73 279.97L649.32 279.44L650.38 278.38L650.91 276.79L650.91 276.26L650.38 274.67L649.32 273.61L647.73 273.08L647.20 273.08L645.61 273.61L644.55 274.67L644.02 276.26M690.13 268.84L688.54 269.37L688.01 270.43L688.01 271.49L688.54 272.55L689.60 273.08L691.72 273.61L693.31 274.14L694.37 275.20L694.90 276.26L694.90 277.85L694.37 278.91L693.84 279.44L692.25 279.97L690.13 279.97L688.54 279.44L688.01 278.91L687.48 277.85L687.48 276.26L688.01 275.20L689.07 274.14L690.66 273.61L692.78 273.08L693.84 272.55L694.37 271.49L694.37 270.43L693.84 269.37L692.25 268.84L690.13 268.84M727.76 270.96L728.82 270.43L730.41 268.84L730.41 279.97M739.95 268.84L738.36 269.37L737.30 270.96L736.77 273.61L736.77 275.20L737.30 277.85L738.36 279.44L739.95 279.97L741.01 279.97L742.60 279.44L743.66 277.85L744.19 275.20L744.19 273.61L743.66 270.96L742.60 269.37L741.01 268.84L739.95 268.84M771.75 270.96L772.81 270.43L774.40 268.84L774.40 279.97M781.29 271.49L781.29 270.96L781.82 269.90L782.35 269.37L783.41 268.84L785.53 268.84L786.59 269.37L787.12 269.90L787.65 270.96L787.65 272.02L787.12 273.08L786.06 274.67L780.76 279.97L788.18 279.97M488.60 30.62L487.01 31.15L485.95 32.74L485.42 35.39L485.42 36.98L485.95 39.63L487.01 41.22L488.60 41.75L489.66 41.75L491.25 41.22L492.31 39.63L492.84 36.98L492.84 35.39L492.31 32.74L491.25 31.15L489.66 30.62L488.60 30.62M497.08 40.69L496.55 41.22L497.08 41.75L497.61 41.22L497.08 40.69M503.97 30.62L502.38 31.15L501.85 32.21L501.85 33.27L502.38 34.33L503.44 34.86L505.56 35.39L507.15 35.92L508.21 36.98L508.74 38.04L508.74 39.63L508.21 40.69L507.68 41.22L506.09 41.75L503.97 41.75L502.38 41.22L501.85 40.69L501.32 39.63L501.32 38.04L501.85 36.98L502.91 35.92L504.50 35.39L506.62 34.86L507.68 34.33L508.21 33.27L508.21 32.21L507.68 31.15L506.09 30.62L503.97 30.62M488.60 63.64L487.01 64.17L485.95 65.76L485.42 68.41L485.42 70.00L485.95 72.65L487.01 74.24L488.60 74.77L489.66 74.77L491.25 74.24L492.31 72.65L492.84 70.00L492.84 68.41L492.31 65.76L491.25 64.17L489.66 63.64L488.60 63.64M497.08 73.71L496.55 74.24L497.08 74.77L497.61 74.24L497.08 73.71M508.21 65.23L507.68 64.17L506.09 63.64L505.03 63.64L503.44 64.17L502.38 65.76L501.85 68.41L501.85 71.06L502.38 73.18L503.44 74.24L505.03 74.77L505.56 74.77L507.15 74.24L508.21 73.18L508.74 71.59L508.74 71.06L508.21 69.47L507.15 68.41L505.56 67.88L505.03 67.88L503.44 68.41L502.38 69.47L501.85 71.06M488.60 101.16L487.01 101.69L485.95 103.28L485.42 105.93L485.42 107.52L485.95 110.17L487.01 111.76L488.60 112.29L489.66 112.29L491.25 111.76L492.31 110.17L492.84 107.52L492.84 105.93L492.31 103.28L491.25 101.69L489.66 101.16L488.60 101.16M497.08 111.23L496.55 111.76L497.08 112.29L497.61 111.76L497.08 111.23M506.62 101.16L501.32 108.58L509.27 108.58M506.62 101.16L506.62 112.29M488.60 138.68L487.01 139.21L485.95 140.80L485.42 143.45L485.42 145.04L485.95 147.69L487.01 149.28L488.60 149.81L489.66 149.81L491.25 149.28L492.31 147.69L492.84 145.04L492.84 143.45L492.31 140.80L491.25 139.21L489.66 138.68L488.60 138.68M497.08 148.75L496.55 149.28L497.08 149.81L497.61 149.28L497.08 148.75M501.85 141.33L501.85 140.80L502.38 139.74L502.91 139.21L503.97 138.68L506.09 138.68L507.15 139.21L507.68 139.74L508.21 140.80L508.21 141.86L507.68 142.92L506.62 144.51L501.32 149.81L508.74 149.81M488.60 176.20L487.01 176.73L485.95 178.32L485.42 180.97L485.42 182.56L485.95 185.21L487.01 186.80L488.60 187.33L489.66 187.33L491.25 186.80L492.31 185.21L492.84 182.56L492.84 180.97L492.31 178.32L491.25 176.73L489.66 176.20L488.60 176.20M497.08 186.27L496.55 186.80L497.08 187.33L497.61 186.80L497.08 186.27M504.50 176.20L502.91 176.73L501.85 178.32L501.32 180.97L501.32 182.56L501.85 185.21L502.91 186.80L504.50 187.33L505.56 187.33L507.15 186.80L508.21 185.21L508.74 182.56L508.74 180.97L508.21 178.32L507.15 176.73L505.56 176.20L504.50 176.20M472.17 220.08L481.71 220.08M488.60 213.72L487.01 214.25L485.95 215.84L485.42 218.49L485.42 220.08L485.95 222.73L487.01 224.32L488.60 224.85L489.66 224.85L491.25 224.32L492.31 222.73L492.84 220.08L492.84 218.49L492.31 215.84L491.25 214.25L489.66 213.72L488.60 213.72M497.08 223.79L496.55 224.32L497.08 224.85L497.61 224.32L497.08 223.79M501.85 216.37L501.85 215.84L502.38 214.78L502.91 214.25L503.97 213.72L506.09 213.72L507.15 214.25L507.68 214.78L508.21 215.84L508.21 216.90L507.68 217.96L506.62 219.55L501.32 224.85L508.74 224.85M472.17 251.30L481.71 251.30M488.60 244.94L487.01 245.47L485.95 247.06L485.42 249.71L485.42 251.30L485.95 253.95L487.01 255.54L488.60 256.07L489.66 256.07L491.25 255.54L492.31 253.95L492.84 251.30L492.84 249.71L492.31 247.06L491.25 245.47L489.66 244.94L488.60 244.94M497.08 255.01L496.55 255.54L497.08 256.07L497.61 255.54L497.08 255.01M506.62 244.94L501.32 252.36L509.27 252.36M506.62 244.94L506.62 256.07M617.79 289.64L617.79 298.65L618.32 300.24L619.38 300.77L620.44 300.77M616.20 293.35L619.91 293.35M623.09 289.64L623.62 290.17L624.15 289.64L623.62 289.11L623.09 289.64M623.62 293.35L623.62 300.77M627.86 293.35L627.86 300.77M627.86 295.47L629.45 293.88L630.51 293.35L632.10 293.35L633.16 293.88L633.69 295.47L633.69 300.77M633.69 295.47L635.28 293.88L636.34 293.35L637.93 293.35L638.99 293.88L639.52 295.47L639.52 300.77M643.23 296.53L649.59 296.53L649.59 295.47L649.06 294.41L648.53 293.88L647.47 293.35L645.88 293.35L644.82 293.88L643.76 294.94L643.23 296.53L643.23 297.59L643.76 299.18L644.82 300.24L645.88 300.77L647.47 300.77L648.53 300.24L649.59 299.18M665.49 287.52L664.43 288.58L663.37 290.17L662.31 292.29L661.78 294.94L661.78 297.06L662.31 299.71L663.37 301.83L664.43 303.42L665.49 304.48M676.62 292.29L676.09 291.23L675.03 290.17L673.97 289.64L671.85 289.64L670.79 290.17L669.73 291.23L669.20 292.29L668.67 293.88L668.67 296.53L669.20 298.12L669.73 299.18L670.79 300.24L671.85 300.77L673.97 300.77L675.03 300.24L676.09 299.18L676.62 298.12L676.62 296.53M673.97 296.53L676.62 296.53M679.27 293.35L682.45 300.77M685.63 293.35L682.45 300.77L681.39 302.89L680.33 303.95L679.27 304.48L678.74 304.48M688.81 293.35L688.81 300.77M688.81 296.53L689.34 294.94L690.40 293.88L691.46 293.35L693.05 293.35M695.17 287.52L696.23 288.58L697.29 290.17L698.35 292.29L698.88 294.94L698.88 297.06L698.35 299.71L697.29 301.83L696.23 303.42L695.17 304.48" class="t"/>
<path transform="translate(455.93 143.91) rotate(-90)" d="M-26.77 -13.25L-26.77 3.71M-26.23 -13.25L-26.23 3.71M-26.77 -13.25L-23.05 -13.25M-26.77 3.71L-23.05 3.71M-12.46 -9.54L-13.52 -10.60L-15.11 -11.13L-17.23 -11.13L-18.82 -10.60L-19.88 -9.54L-19.88 -8.48L-19.35 -7.42L-18.82 -6.89L-17.76 -6.36L-14.58 -5.30L-13.52 -4.77L-12.99 -4.24L-12.46 -3.18L-12.46 -1.59L-13.52 -0.53L-15.11 0.00L-17.23 0.00L-18.82 -0.53L-19.88 -1.59M-0.27 -13.25L-9.81 3.71M9.80 -11.13L2.38 0.00M2.38 -11.13L9.80 -11.13M2.38 0.00L9.80 0.00M13.52 -7.42L13.52 0.00M13.52 -5.30L15.11 -6.89L16.16 -7.42L17.75 -7.42L18.81 -6.89L19.34 -5.30L19.34 0.00M26.23 -13.25L26.23 3.71M26.77 -13.25L26.77 3.71M23.05 -13.25L26.77 -13.25M23.05 3.71L26.77 3.71" class="t"/>
<path d="M100.77 502.02 H385.25" stroke="#b2b2b2" stroke-width="1.9" stroke-dasharray="2.1 3.2" stroke-dashoffset="0.65" fill="none"/>
<path d="M353.64 577.10 V351.86" stroke="#000" stroke-width="0.8" stroke-dasharray="2.0 3.3" fill="none"/>
<g clip-path="url(#c2)" fill="none">
<clipPath id="c2"><rect x="100.77" y="351.86" width="284.48" height="225.24"/></clipPath>
<path d="M100.70 409.90C101.88 409.58 105.37 408.38 107.80 408.00C110.23 407.62 112.78 407.58 115.30 407.60C117.82 407.62 120.40 407.80 122.90 408.10C125.40 408.40 127.85 408.87 130.30 409.40C132.75 409.93 135.18 410.63 137.60 411.30C140.02 411.97 142.42 412.58 144.80 413.40C147.18 414.22 149.55 415.28 151.90 416.20C154.25 417.12 156.53 417.90 158.90 418.90C161.27 419.90 163.78 421.12 166.10 422.20C168.42 423.28 170.63 424.28 172.80 425.40C174.97 426.52 176.97 427.63 179.10 428.90C181.23 430.17 183.47 431.60 185.60 433.00C187.73 434.40 189.82 435.85 191.90 437.30C193.98 438.75 196.08 440.22 198.10 441.70C200.12 443.18 202.07 444.63 204.00 446.20C205.93 447.77 207.70 449.55 209.70 451.10C211.70 452.65 213.90 454.05 216.00 455.50C218.10 456.95 220.20 458.43 222.30 459.80C224.40 461.17 226.45 462.43 228.60 463.70C230.75 464.97 232.97 466.20 235.20 467.40C237.43 468.60 239.78 469.75 242.00 470.90C244.22 472.05 246.23 473.23 248.50 474.30C250.77 475.37 253.30 476.30 255.60 477.30C257.90 478.30 260.00 479.32 262.30 480.30C264.60 481.28 267.08 482.17 269.40 483.20C271.72 484.23 273.85 485.38 276.20 486.50C278.55 487.62 281.20 488.82 283.50 489.90C285.80 490.98 287.72 491.92 290.00 493.00C292.28 494.08 294.92 495.35 297.20 496.40C299.48 497.45 301.42 498.35 303.70 499.30C305.98 500.25 308.62 501.13 310.90 502.10C313.18 503.07 315.80 504.38 317.40 505.10C319.00 505.82 319.98 506.18 320.50 506.40" stroke="#00c6fb" stroke-width="1.95" stroke-dasharray="7.9 7.19"/>
<path d="M163.85 397.64C163.99 397.70 163.78 397.61 164.70 398.00C165.62 398.39 167.87 399.28 169.40 400.00C170.93 400.72 172.33 401.52 173.90 402.30C175.47 403.08 177.20 403.92 178.80 404.70C180.40 405.48 181.93 406.27 183.50 407.00C185.07 407.73 186.62 408.33 188.20 409.10C189.78 409.87 191.40 410.78 193.00 411.60C194.60 412.42 196.22 413.23 197.80 414.00C199.38 414.77 200.90 415.47 202.50 416.20C204.10 416.93 205.78 417.68 207.40 418.40C209.02 419.12 210.58 419.78 212.20 420.50C213.82 421.22 215.50 421.88 217.10 422.70C218.70 423.52 220.20 424.58 221.80 425.40C223.40 426.22 225.08 426.82 226.70 427.60C228.32 428.38 229.92 429.28 231.50 430.10C233.08 430.92 234.63 431.73 236.20 432.50C237.77 433.27 239.30 433.95 240.90 434.70C242.50 435.45 244.18 436.25 245.80 437.00C247.42 437.75 249.02 438.48 250.60 439.20C252.18 439.92 253.70 440.63 255.30 441.30C256.90 441.97 258.58 442.58 260.20 443.20C261.82 443.82 263.37 444.33 265.00 445.00C266.63 445.67 268.33 446.52 270.00 447.20C271.67 447.88 273.38 448.47 275.00 449.10C276.62 449.73 278.08 450.38 279.70 451.00C281.32 451.62 283.05 452.18 284.70 452.80C286.35 453.42 287.95 454.07 289.60 454.70C291.25 455.33 292.93 456.00 294.60 456.60C296.27 457.20 297.98 457.63 299.60 458.30C301.22 458.97 302.75 459.77 304.30 460.60C305.85 461.43 307.38 462.37 308.90 463.30C310.42 464.23 311.98 465.20 313.40 466.20C314.82 467.20 316.07 468.15 317.40 469.30C318.73 470.45 320.15 471.78 321.40 473.10C322.65 474.42 323.80 475.82 324.90 477.20C326.00 478.58 327.00 479.97 328.00 481.40C329.00 482.83 329.97 484.30 330.90 485.80C331.83 487.30 332.75 488.88 333.60 490.40C334.45 491.92 335.15 493.37 336.00 494.90C336.85 496.43 337.80 498.05 338.70 499.60C339.60 501.15 340.50 502.67 341.40 504.20C342.30 505.73 343.23 507.28 344.10 508.80C344.97 510.32 345.73 511.78 346.60 513.30C347.47 514.82 348.40 516.35 349.30 517.90C350.20 519.45 351.10 521.10 352.00 522.60C352.90 524.10 353.73 525.42 354.70 526.90C355.67 528.38 356.73 530.00 357.80 531.50C358.87 533.00 360.07 534.47 361.10 535.90C362.13 537.33 363.03 538.70 364.00 540.10C364.97 541.50 365.93 542.82 366.90 544.30C367.87 545.78 369.23 548.08 369.80 549.00C370.37 549.92 370.22 549.67 370.30 549.81" stroke="#0a0aff" stroke-width="1.85" stroke-dasharray="1.85 3.44"/>
<path d="M100.70 410.80L110.50 401.60L136.00 399.10C137.80 399.55 143.20 400.80 146.80 401.80C150.40 402.80 153.98 403.97 157.60 405.10C161.22 406.23 165.42 407.43 168.50 408.60C171.58 409.77 173.75 410.88 176.10 412.10C178.45 413.32 179.97 414.30 182.60 415.90C185.23 417.50 188.87 419.62 191.90 421.70C194.93 423.78 197.83 426.05 200.80 428.40C203.77 430.75 206.73 433.50 209.70 435.80C212.67 438.10 215.65 440.43 218.60 442.20C221.55 443.97 223.83 444.77 227.40 446.40C230.97 448.03 235.40 449.97 240.00 452.00C244.60 454.03 250.83 456.75 255.00 458.60C259.17 460.45 261.67 461.58 265.00 463.10C268.33 464.62 271.67 466.03 275.00 467.70C278.33 469.37 281.67 471.37 285.00 473.10C288.33 474.83 291.68 476.43 295.00 478.10C298.32 479.77 301.58 481.33 304.90 483.10C308.22 484.87 311.77 486.83 314.90 488.70C318.03 490.57 320.95 492.40 323.70 494.30C326.45 496.20 328.97 498.12 331.40 500.10C333.83 502.08 336.08 504.05 338.30 506.20C340.52 508.35 342.73 510.87 344.70 513.00C346.67 515.13 348.62 517.28 350.10 519.00C351.58 520.72 353.02 522.58 353.60 523.30" stroke="#000" stroke-width="1.08"/>
<path d="M123.00 400.60L172.80 402.30C174.03 403.13 177.02 405.42 180.20 407.30C183.38 409.18 188.30 411.70 191.90 413.60C195.50 415.50 198.53 416.62 201.80 418.70C205.07 420.78 208.25 423.63 211.50 426.10C214.75 428.57 218.22 431.70 221.30 433.50C224.38 435.30 225.22 434.97 230.00 436.90C234.78 438.83 242.50 442.02 250.00 445.10C257.50 448.18 267.50 452.20 275.00 455.40C282.50 458.60 290.02 462.03 295.00 464.30C299.98 466.57 302.00 467.57 304.90 469.00C307.80 470.43 310.10 471.50 312.40 472.90C314.70 474.30 316.62 475.60 318.70 477.40C320.78 479.20 323.03 481.62 324.90 483.70C326.77 485.78 328.18 487.68 329.90 489.90C331.62 492.12 333.28 494.35 335.20 497.00C337.12 499.65 339.45 503.05 341.40 505.80C343.35 508.55 345.08 510.85 346.90 513.50C348.72 516.15 350.48 518.97 352.30 521.70C354.12 524.43 356.20 527.45 357.80 529.90C359.40 532.35 361.22 535.32 361.90 536.40" stroke="#000" stroke-width="1.08"/>
</g>
<path d="M100.77 577.10v-4.60M100.77 351.86v4.60M107.09 577.10v-2.35M107.09 351.86v2.35M113.41 577.10v-2.35M113.41 351.86v2.35M119.74 577.10v-2.35M119.74 351.86v2.35M126.06 577.10v-2.35M126.06 351.86v2.35M132.38 577.10v-2.35M132.38 351.86v2.35M138.70 577.10v-2.35M138.70 351.86v2.35M145.02 577.10v-2.35M145.02 351.86v2.35M151.34 577.10v-2.35M151.34 351.86v2.35M157.67 577.10v-2.35M157.67 351.86v2.35M163.99 577.10v-4.60M163.99 351.86v4.60M170.31 577.10v-2.35M170.31 351.86v2.35M176.63 577.10v-2.35M176.63 351.86v2.35M182.95 577.10v-2.35M182.95 351.86v2.35M189.27 577.10v-2.35M189.27 351.86v2.35M195.60 577.10v-2.35M195.60 351.86v2.35M201.92 577.10v-2.35M201.92 351.86v2.35M208.24 577.10v-2.35M208.24 351.86v2.35M214.56 577.10v-2.35M214.56 351.86v2.35M220.88 577.10v-2.35M220.88 351.86v2.35M227.21 577.10v-4.60M227.21 351.86v4.60M233.53 577.10v-2.35M233.53 351.86v2.35M239.85 577.10v-2.35M239.85 351.86v2.35M246.17 577.10v-2.35M246.17 351.86v2.35M252.49 577.10v-2.35M252.49 351.86v2.35M258.81 577.10v-2.35M258.81 351.86v2.35M265.14 577.10v-2.35M265.14 351.86v2.35M271.46 577.10v-2.35M271.46 351.86v2.35M277.78 577.10v-2.35M277.78 351.86v2.35M284.10 577.10v-2.35M284.10 351.86v2.35M290.42 577.10v-4.60M290.42 351.86v4.60M296.75 577.10v-2.35M296.75 351.86v2.35M303.07 577.10v-2.35M303.07 351.86v2.35M309.39 577.10v-2.35M309.39 351.86v2.35M315.71 577.10v-2.35M315.71 351.86v2.35M322.03 577.10v-2.35M322.03 351.86v2.35M328.35 577.10v-2.35M328.35 351.86v2.35M334.68 577.10v-2.35M334.68 351.86v2.35M341.00 577.10v-2.35M341.00 351.86v2.35M347.32 577.10v-2.35M347.32 351.86v2.35M353.64 577.10v-4.60M353.64 351.86v4.60M359.96 577.10v-2.35M359.96 351.86v2.35M366.28 577.10v-2.35M366.28 351.86v2.35M372.61 577.10v-2.35M372.61 351.86v2.35M378.93 577.10v-2.35M378.93 351.86v2.35M385.25 577.10v-2.35M385.25 351.86v2.35M100.77 577.10h5.70M385.25 577.10h-5.70M100.77 567.72h2.90M385.25 567.72h-2.90M100.77 558.33h2.90M385.25 558.33h-2.90M100.77 548.95h2.90M385.25 548.95h-2.90M100.77 539.56h5.70M385.25 539.56h-5.70M100.77 530.18h2.90M385.25 530.18h-2.90M100.77 520.79h2.90M385.25 520.79h-2.90M100.77 511.41h2.90M385.25 511.41h-2.90M100.77 502.02h5.70M385.25 502.02h-5.70M100.77 492.64h2.90M385.25 492.64h-2.90M100.77 483.25h2.90M385.25 483.25h-2.90M100.77 473.87h2.90M385.25 473.87h-2.90M100.77 464.48h5.70M385.25 464.48h-5.70M100.77 455.10h2.90M385.25 455.10h-2.90M100.77 445.71h2.90M385.25 445.71h-2.90M100.77 436.33h2.90M385.25 436.33h-2.90M100.77 426.94h5.70M385.25 426.94h-5.70M100.77 417.56h2.90M385.25 417.56h-2.90M100.77 408.17h2.90M385.25 408.17h-2.90M100.77 398.79h2.90M385.25 398.79h-2.90M100.77 389.40h5.70M385.25 389.40h-5.70M100.77 380.02h2.90M385.25 380.02h-2.90M100.77 370.63h2.90M385.25 370.63h-2.90M100.77 361.25h2.90M385.25 361.25h-2.90M100.77 351.86h5.70M385.25 351.86h-5.70" stroke="#000" stroke-width="1.00" fill="none"/>
<rect x="100.77" y="351.86" width="284.48" height="225.24" fill="none" stroke="#000" stroke-width="1.25" stroke-linejoin="round"/>
<path d="M89.70 596.43L99.24 596.43M108.25 590.07L102.95 597.49L110.90 597.49M108.25 590.07L108.25 601.20M152.92 596.43L162.46 596.43M167.23 590.07L173.06 590.07L169.88 594.31L171.47 594.31L172.53 594.84L173.06 595.37L173.59 596.96L173.59 598.02L173.06 599.61L172.00 600.67L170.41 601.20L168.82 601.20L167.23 600.67L166.70 600.14L166.17 599.08M216.14 596.43L225.68 596.43M229.92 592.72L229.92 592.19L230.45 591.13L230.98 590.60L232.04 590.07L234.16 590.07L235.22 590.60L235.75 591.13L236.28 592.19L236.28 593.25L235.75 594.31L234.69 595.90L229.39 601.20L236.81 601.20M279.35 596.43L288.89 596.43M294.19 592.19L295.25 591.66L296.84 590.07L296.84 601.20M352.11 590.07L350.52 590.60L349.46 592.19L348.93 594.84L348.93 596.43L349.46 599.08L350.52 600.67L352.11 601.20L353.17 601.20L354.76 600.67L355.82 599.08L356.35 596.43L356.35 594.84L355.82 592.19L354.76 590.60L353.17 590.07L352.11 590.07M73.14 351.73L71.55 352.26L70.49 353.85L69.96 356.50L69.96 358.09L70.49 360.74L71.55 362.33L73.14 362.86L74.20 362.86L75.79 362.33L76.85 360.74L77.38 358.09L77.38 356.50L76.85 353.85L75.79 352.26L74.20 351.73L73.14 351.73M81.62 361.80L81.09 362.33L81.62 362.86L82.15 362.33L81.62 361.80M88.51 351.73L86.92 352.26L86.39 353.32L86.39 354.38L86.92 355.44L87.98 355.97L90.10 356.50L91.69 357.03L92.75 358.09L93.28 359.15L93.28 360.74L92.75 361.80L92.22 362.33L90.63 362.86L88.51 362.86L86.92 362.33L86.39 361.80L85.86 360.74L85.86 359.15L86.39 358.09L87.45 357.03L89.04 356.50L91.16 355.97L92.22 355.44L92.75 354.38L92.75 353.32L92.22 352.26L90.63 351.73L88.51 351.73M73.14 384.77L71.55 385.30L70.49 386.89L69.96 389.54L69.96 391.13L70.49 393.78L71.55 395.37L73.14 395.90L74.20 395.90L75.79 395.37L76.85 393.78L77.38 391.13L77.38 389.54L76.85 386.89L75.79 385.30L74.20 384.77L73.14 384.77M81.62 394.84L81.09 395.37L81.62 395.90L82.15 395.37L81.62 394.84M92.75 386.36L92.22 385.30L90.63 384.77L89.57 384.77L87.98 385.30L86.92 386.89L86.39 389.54L86.39 392.19L86.92 394.31L87.98 395.37L89.57 395.90L90.10 395.90L91.69 395.37L92.75 394.31L93.28 392.72L93.28 392.19L92.75 390.60L91.69 389.54L90.10 389.01L89.57 389.01L87.98 389.54L86.92 390.60L86.39 392.19M73.14 422.31L71.55 422.84L70.49 424.43L69.96 427.08L69.96 428.67L70.49 431.32L71.55 432.91L73.14 433.44L74.20 433.44L75.79 432.91L76.85 431.32L77.38 428.67L77.38 427.08L76.85 424.43L75.79 422.84L74.20 422.31L73.14 422.31M81.62 432.38L81.09 432.91L81.62 433.44L82.15 432.91L81.62 432.38M91.16 422.31L85.86 429.73L93.81 429.73M91.16 422.31L91.16 433.44M73.14 459.85L71.55 460.38L70.49 461.97L69.96 464.62L69.96 466.21L70.49 468.86L71.55 470.45L73.14 470.98L74.20 470.98L75.79 470.45L76.85 468.86L77.38 466.21L77.38 464.62L76.85 461.97L75.79 460.38L74.20 459.85L73.14 459.85M81.62 469.92L81.09 470.45L81.62 470.98L82.15 470.45L81.62 469.92M86.39 462.50L86.39 461.97L86.92 460.91L87.45 460.38L88.51 459.85L90.63 459.85L91.69 460.38L92.22 460.91L92.75 461.97L92.75 463.03L92.22 464.09L91.16 465.68L85.86 470.98L93.28 470.98M73.14 497.39L71.55 497.92L70.49 499.51L69.96 502.16L69.96 503.75L70.49 506.40L71.55 507.99L73.14 508.52L74.20 508.52L75.79 507.99L76.85 506.40L77.38 503.75L77.38 502.16L76.85 499.51L75.79 497.92L74.20 497.39L73.14 497.39M81.62 507.46L81.09 507.99L81.62 508.52L82.15 507.99L81.62 507.46M89.04 497.39L87.45 497.92L86.39 499.51L85.86 502.16L85.86 503.75L86.39 506.40L87.45 507.99L89.04 508.52L90.10 508.52L91.69 507.99L92.75 506.40L93.28 503.75L93.28 502.16L92.75 499.51L91.69 497.92L90.10 497.39L89.04 497.39M56.71 541.29L66.25 541.29M73.14 534.93L71.55 535.46L70.49 537.05L69.96 539.70L69.96 541.29L70.49 543.94L71.55 545.53L73.14 546.06L74.20 546.06L75.79 545.53L76.85 543.94L77.38 541.29L77.38 539.70L76.85 537.05L75.79 535.46L74.20 534.93L73.14 534.93M81.62 545.00L81.09 545.53L81.62 546.06L82.15 545.53L81.62 545.00M86.39 537.58L86.39 537.05L86.92 535.99L87.45 535.46L88.51 534.93L90.63 534.93L91.69 535.46L92.22 535.99L92.75 537.05L92.75 538.11L92.22 539.17L91.16 540.76L85.86 546.06L93.28 546.06M56.71 572.53L66.25 572.53M73.14 566.17L71.55 566.70L70.49 568.29L69.96 570.94L69.96 572.53L70.49 575.18L71.55 576.77L73.14 577.30L74.20 577.30L75.79 576.77L76.85 575.18L77.38 572.53L77.38 570.94L76.85 568.29L75.79 566.70L74.20 566.17L73.14 566.17M81.62 576.24L81.09 576.77L81.62 577.30L82.15 576.77L81.62 576.24M91.16 566.17L85.86 573.59L93.81 573.59M91.16 566.17L91.16 577.30M215.51 608.75L215.51 625.71M216.04 608.75L216.04 625.71M215.51 608.75L219.22 608.75M215.51 625.71L219.22 625.71M222.93 610.87L222.93 622.00M222.93 610.87L229.82 610.87M222.93 616.17L227.17 616.17M231.94 617.76L238.30 617.76L238.30 616.70L237.77 615.64L237.24 615.11L236.18 614.58L234.59 614.58L233.53 615.11L232.47 616.17L231.94 617.76L231.94 618.82L232.47 620.41L233.53 621.47L234.59 622.00L236.18 622.00L237.24 621.47L238.30 620.41M250.49 608.75L240.95 625.71M253.67 610.87L253.67 622.00M261.09 610.87L261.09 622.00M253.67 616.17L261.09 616.17M267.98 608.75L267.98 625.71M268.51 608.75L268.51 625.71M264.80 608.75L268.51 608.75M264.80 625.71L268.51 625.71" class="t"/>
<path transform="translate(40.47 465.08) rotate(-90)" d="M-25.97 -13.25L-25.97 3.71M-25.44 -13.25L-25.44 3.71M-25.97 -13.25L-22.26 -13.25M-25.97 3.71L-22.26 3.71M-11.66 -9.54L-12.72 -10.60L-14.31 -11.13L-16.43 -11.13L-18.02 -10.60L-19.08 -9.54L-19.08 -8.48L-18.55 -7.42L-18.02 -6.89L-16.96 -6.36L-13.78 -5.30L-12.72 -4.77L-12.19 -4.24L-11.66 -3.18L-11.66 -1.59L-12.72 -0.53L-14.31 0.00L-16.43 0.00L-18.02 -0.53L-19.08 -1.59M0.53 -13.25L-9.01 3.71M3.71 -11.13L3.71 0.00M3.71 -11.13L10.60 -11.13M3.71 -5.83L7.95 -5.83M12.72 -4.24L19.08 -4.24L19.08 -5.30L18.55 -6.36L18.02 -6.89L16.96 -7.42L15.37 -7.42L14.31 -6.89L13.25 -5.83L12.72 -4.24L12.72 -3.18L13.25 -1.59L14.31 -0.53L15.37 0.00L16.96 0.00L18.02 -0.53L19.08 -1.59M25.44 -13.25L25.44 3.71M25.97 -13.25L25.97 3.71M22.26 -13.25L25.97 -13.25M22.26 3.71L25.97 3.71" class="t"/>
<path d="M516.23 502.02 H800.85" stroke="#b2b2b2" stroke-width="1.9" stroke-dasharray="2.1 3.2" stroke-dashoffset="0.65" fill="none"/>
<path d="M769.23 577.10 V351.86" stroke="#000" stroke-width="0.8" stroke-dasharray="2.0 3.3" fill="none"/>
<g clip-path="url(#c3)" fill="none">
<clipPath id="c3"><rect x="516.23" y="351.86" width="284.62" height="225.24"/></clipPath>
<path d="M516.30 420.60C517.47 420.30 520.87 419.35 523.30 418.80C525.73 418.25 528.37 417.63 530.90 417.30C533.43 416.97 535.97 416.93 538.50 416.80C541.03 416.67 543.57 416.55 546.10 416.50C548.63 416.45 551.22 416.48 553.70 416.50C556.18 416.52 558.52 416.50 561.00 416.60C563.48 416.70 566.08 416.93 568.60 417.10C571.12 417.27 573.58 417.38 576.10 417.60C578.62 417.82 581.17 418.05 583.70 418.40C586.23 418.75 588.83 419.22 591.30 419.70C593.77 420.18 596.03 420.63 598.50 421.30C600.97 421.97 603.75 422.88 606.10 423.70C608.45 424.52 610.32 425.23 612.60 426.20C614.88 427.17 617.45 428.50 619.80 429.50C622.15 430.50 624.28 431.47 626.70 432.20C629.12 432.93 631.82 433.47 634.30 433.90C636.78 434.33 639.12 434.75 641.60 434.80C644.08 434.85 646.68 434.53 649.20 434.20C651.72 433.87 654.23 433.43 656.70 432.80C659.17 432.17 661.65 431.32 664.00 430.40C666.35 429.48 669.05 428.22 670.80 427.30C672.55 426.38 673.47 425.58 674.50 424.90C675.53 424.22 676.13 423.72 677.00 423.20C677.87 422.68 678.53 422.03 679.70 421.80C680.87 421.57 682.65 421.63 684.00 421.80C685.35 421.97 686.63 422.37 687.80 422.80C688.97 423.23 689.37 423.38 691.00 424.40C692.63 425.42 695.62 427.42 697.60 428.90C699.58 430.38 701.02 431.65 702.90 433.30C704.78 434.95 707.12 436.97 708.90 438.80C710.68 440.63 712.37 442.97 713.60 444.30C714.83 445.63 715.85 446.38 716.30 446.80" stroke="#00c6fb" stroke-width="1.95" stroke-dasharray="7.9 7.19"/>
<path d="M583.93 410.90C584.07 410.95 583.82 410.87 584.80 411.20C585.78 411.53 588.12 412.35 589.80 412.90C591.48 413.45 593.22 413.98 594.90 414.50C596.58 415.02 598.22 415.47 599.90 416.00C601.58 416.53 603.30 417.13 605.00 417.70C606.70 418.27 608.42 418.85 610.10 419.40C611.78 419.95 613.45 420.43 615.10 421.00C616.75 421.57 618.35 422.28 620.00 422.80C621.65 423.32 623.30 423.60 625.00 424.10C626.70 424.60 628.50 425.27 630.20 425.80C631.90 426.33 633.55 426.73 635.20 427.30C636.85 427.87 638.43 428.58 640.10 429.20C641.77 429.82 643.52 430.40 645.20 431.00C646.88 431.60 648.53 432.23 650.20 432.80C651.87 433.37 653.53 433.97 655.20 434.40C656.87 434.83 658.47 435.20 660.20 435.40C661.93 435.60 663.83 435.55 665.60 435.60C667.37 435.65 669.10 435.80 670.80 435.70C672.50 435.60 674.07 435.28 675.80 435.00C677.53 434.72 679.45 434.08 681.20 434.00C682.95 433.92 684.67 434.08 686.30 434.50C687.93 434.92 689.48 435.68 691.00 436.50C692.52 437.32 694.00 438.37 695.40 439.40C696.80 440.43 698.10 441.53 699.40 442.70C700.70 443.87 701.97 445.13 703.20 446.40C704.43 447.67 705.62 449.00 706.80 450.30C707.98 451.60 709.12 452.90 710.30 454.20C711.48 455.50 712.72 456.75 713.90 458.10C715.08 459.45 716.25 460.90 717.40 462.30C718.55 463.70 719.70 465.12 720.80 466.50C721.90 467.88 722.93 469.20 724.00 470.60C725.07 472.00 726.15 473.53 727.20 474.90C728.25 476.27 729.27 477.42 730.30 478.80C731.33 480.18 732.37 481.77 733.40 483.20C734.43 484.63 735.47 485.98 736.50 487.40C737.53 488.82 738.55 490.27 739.60 491.70C740.65 493.13 741.78 494.53 742.80 496.00C743.82 497.47 744.70 499.05 745.70 500.50C746.70 501.95 747.78 503.23 748.80 504.70C749.82 506.17 750.77 507.80 751.80 509.30C752.83 510.80 753.95 512.28 755.00 513.70C756.05 515.12 757.02 516.45 758.10 517.80C759.18 519.15 760.15 520.78 761.50 521.80C762.85 522.82 764.63 523.32 766.20 523.90C767.77 524.48 769.45 525.07 770.90 525.30C772.35 525.53 774.02 526.03 774.90 525.30C775.78 524.57 775.98 521.63 776.20 520.90" stroke="#0a0aff" stroke-width="1.85" stroke-dasharray="1.85 3.44"/>
<path d="M516.30 425.20L530.60 418.10C533.18 417.98 541.80 417.52 546.10 417.40C550.40 417.28 552.88 417.32 556.40 417.40C559.92 417.48 564.10 417.70 567.20 417.90C570.30 418.10 572.50 418.33 575.00 418.60C577.50 418.87 579.78 419.10 582.20 419.50C584.62 419.90 587.08 420.45 589.50 421.00C591.92 421.55 594.30 422.15 596.70 422.80C599.10 423.45 601.50 424.07 603.90 424.90C606.30 425.73 608.68 426.77 611.10 427.80C613.52 428.83 615.98 430.10 618.40 431.10C620.82 432.10 623.58 433.12 625.60 433.80C627.62 434.48 629.02 434.77 630.50 435.20C631.98 435.63 633.13 436.02 634.50 436.40C635.87 436.78 637.03 437.15 638.70 437.50C640.37 437.85 642.58 438.26 644.50 438.50C646.42 438.74 648.28 438.91 650.20 438.95C652.12 438.99 654.07 438.91 656.00 438.75C657.93 438.59 659.87 438.31 661.80 438.00C663.73 437.69 665.67 437.35 667.60 436.90C669.53 436.45 671.72 435.82 673.40 435.30C675.08 434.78 676.52 434.20 677.70 433.80C678.88 433.40 679.52 433.13 680.50 432.90C681.48 432.67 682.68 432.45 683.60 432.40C684.52 432.35 685.25 432.45 686.00 432.60C686.75 432.75 687.33 432.98 688.10 433.30C688.87 433.62 689.45 433.85 690.60 434.50C691.75 435.15 693.23 435.72 695.00 437.20C696.77 438.68 699.12 441.18 701.20 443.40C703.28 445.62 705.42 448.15 707.50 450.50C709.58 452.85 711.62 455.20 713.70 457.50C715.78 459.80 717.92 461.92 720.00 464.30C722.08 466.68 724.53 469.73 726.20 471.80C727.87 473.87 728.33 474.60 730.00 476.70C731.67 478.80 734.12 481.77 736.20 484.40C738.28 487.03 740.42 489.80 742.50 492.50C744.58 495.20 746.62 497.80 748.70 500.60C750.78 503.40 753.23 506.93 755.00 509.30C756.77 511.67 758.05 513.22 759.30 514.80C760.55 516.38 760.93 517.10 762.50 518.80C764.07 520.50 766.73 523.22 768.70 525.00C770.67 526.78 773.37 528.75 774.30 529.50" stroke="#000" stroke-width="1.08"/>
<path d="M545.00 414.10L592.70 417.30C593.97 417.85 597.83 419.63 600.30 420.60C602.77 421.57 605.08 422.32 607.50 423.10C609.92 423.88 612.50 424.63 614.80 425.30C617.10 425.97 619.27 426.38 621.30 427.10C623.33 427.82 625.47 428.92 627.00 429.60C628.53 430.28 629.28 430.62 630.50 431.20C631.72 431.78 632.93 432.48 634.30 433.10C635.67 433.72 637.00 434.37 638.70 434.90C640.40 435.43 642.58 435.94 644.50 436.30C646.42 436.66 648.28 436.90 650.20 437.05C652.12 437.20 654.07 437.27 656.00 437.20C657.93 437.12 659.87 436.92 661.80 436.60C663.73 436.28 665.67 435.93 667.60 435.30C669.53 434.67 671.72 433.63 673.40 432.80C675.08 431.97 676.52 430.87 677.70 430.30C678.88 429.73 679.65 429.58 680.50 429.40C681.35 429.22 682.05 429.20 682.80 429.20C683.55 429.20 684.35 429.30 685.00 429.40C685.65 429.50 685.77 429.38 686.70 429.80C687.63 430.22 689.22 431.03 690.60 431.90C691.98 432.77 693.23 433.65 695.00 435.00C696.77 436.35 699.12 438.22 701.20 440.00C703.28 441.78 705.42 443.72 707.50 445.70C709.58 447.68 711.62 449.73 713.70 451.90C715.78 454.07 717.92 456.35 720.00 458.70C722.08 461.05 724.00 463.28 726.20 466.00C728.40 468.72 730.48 471.52 733.20 475.00C735.92 478.48 739.40 482.85 742.50 486.90C745.60 490.95 749.20 495.85 751.80 499.30C754.40 502.75 756.03 504.85 758.10 507.60C760.17 510.35 762.58 513.63 764.20 515.80C765.82 517.97 767.20 519.80 767.80 520.60" stroke="#000" stroke-width="1.08"/>
</g>
<path d="M516.23 577.10v-4.60M516.23 351.86v4.60M522.55 577.10v-2.35M522.55 351.86v2.35M528.88 577.10v-2.35M528.88 351.86v2.35M535.20 577.10v-2.35M535.20 351.86v2.35M541.53 577.10v-2.35M541.53 351.86v2.35M547.85 577.10v-2.35M547.85 351.86v2.35M554.18 577.10v-2.35M554.18 351.86v2.35M560.50 577.10v-2.35M560.50 351.86v2.35M566.83 577.10v-2.35M566.83 351.86v2.35M573.15 577.10v-2.35M573.15 351.86v2.35M579.48 577.10v-4.60M579.48 351.86v4.60M585.80 577.10v-2.35M585.80 351.86v2.35M592.13 577.10v-2.35M592.13 351.86v2.35M598.45 577.10v-2.35M598.45 351.86v2.35M604.78 577.10v-2.35M604.78 351.86v2.35M611.10 577.10v-2.35M611.10 351.86v2.35M617.43 577.10v-2.35M617.43 351.86v2.35M623.75 577.10v-2.35M623.75 351.86v2.35M630.08 577.10v-2.35M630.08 351.86v2.35M636.40 577.10v-2.35M636.40 351.86v2.35M642.73 577.10v-4.60M642.73 351.86v4.60M649.05 577.10v-2.35M649.05 351.86v2.35M655.38 577.10v-2.35M655.38 351.86v2.35M661.70 577.10v-2.35M661.70 351.86v2.35M668.03 577.10v-2.35M668.03 351.86v2.35M674.35 577.10v-2.35M674.35 351.86v2.35M680.68 577.10v-2.35M680.68 351.86v2.35M687.00 577.10v-2.35M687.00 351.86v2.35M693.33 577.10v-2.35M693.33 351.86v2.35M699.65 577.10v-2.35M699.65 351.86v2.35M705.98 577.10v-4.60M705.98 351.86v4.60M712.30 577.10v-2.35M712.30 351.86v2.35M718.63 577.10v-2.35M718.63 351.86v2.35M724.95 577.10v-2.35M724.95 351.86v2.35M731.28 577.10v-2.35M731.28 351.86v2.35M737.60 577.10v-2.35M737.60 351.86v2.35M743.93 577.10v-2.35M743.93 351.86v2.35M750.25 577.10v-2.35M750.25 351.86v2.35M756.58 577.10v-2.35M756.58 351.86v2.35M762.90 577.10v-2.35M762.90 351.86v2.35M769.23 577.10v-4.60M769.23 351.86v4.60M775.55 577.10v-2.35M775.55 351.86v2.35M781.88 577.10v-2.35M781.88 351.86v2.35M788.20 577.10v-2.35M788.20 351.86v2.35M794.53 577.10v-2.35M794.53 351.86v2.35M800.85 577.10v-2.35M800.85 351.86v2.35M516.23 577.10h5.70M800.85 577.10h-5.70M516.23 567.72h2.90M800.85 567.72h-2.90M516.23 558.33h2.90M800.85 558.33h-2.90M516.23 548.95h2.90M800.85 548.95h-2.90M516.23 539.56h5.70M800.85 539.56h-5.70M516.23 530.18h2.90M800.85 530.18h-2.90M516.23 520.79h2.90M800.85 520.79h-2.90M516.23 511.41h2.90M800.85 511.41h-2.90M516.23 502.02h5.70M800.85 502.02h-5.70M516.23 492.64h2.90M800.85 492.64h-2.90M516.23 483.25h2.90M800.85 483.25h-2.90M516.23 473.87h2.90M800.85 473.87h-2.90M516.23 464.48h5.70M800.85 464.48h-5.70M516.23 455.10h2.90M800.85 455.10h-2.90M516.23 445.71h2.90M800.85 445.71h-2.90M516.23 436.33h2.90M800.85 436.33h-2.90M516.23 426.94h5.70M800.85 426.94h-5.70M516.23 417.56h2.90M800.85 417.56h-2.90M516.23 408.17h2.90M800.85 408.17h-2.90M516.23 398.79h2.90M800.85 398.79h-2.90M516.23 389.40h5.70M800.85 389.40h-5.70M516.23 380.02h2.90M800.85 380.02h-2.90M516.23 370.63h2.90M800.85 370.63h-2.90M516.23 361.25h2.90M800.85 361.25h-2.90M516.23 351.86h5.70M800.85 351.86h-5.70" stroke="#000" stroke-width="1.00" fill="none"/>
<rect x="516.23" y="351.86" width="284.62" height="225.24" fill="none" stroke="#000" stroke-width="1.25" stroke-linejoin="round"/>
<path d="M505.16 596.43L514.70 596.43M523.71 590.07L518.41 597.49L526.36 597.49M523.71 590.07L523.71 601.20M568.41 596.43L577.95 596.43M582.72 590.07L588.55 590.07L585.37 594.31L586.96 594.31L588.02 594.84L588.55 595.37L589.08 596.96L589.08 598.02L588.55 599.61L587.49 600.67L585.90 601.20L584.31 601.20L582.72 600.67L582.19 600.14L581.66 599.08M631.66 596.43L641.20 596.43M645.44 592.72L645.44 592.19L645.97 591.13L646.50 590.60L647.56 590.07L649.68 590.07L650.74 590.60L651.27 591.13L651.80 592.19L651.80 593.25L651.27 594.31L650.21 595.90L644.91 601.20L652.33 601.20M694.91 596.43L704.45 596.43M709.75 592.19L710.81 591.66L712.40 590.07L712.40 601.20M767.70 590.07L766.11 590.60L765.05 592.19L764.52 594.84L764.52 596.43L765.05 599.08L766.11 600.67L767.70 601.20L768.76 601.20L770.35 600.67L771.41 599.08L771.94 596.43L771.94 594.84L771.41 592.19L770.35 590.60L768.76 590.07L767.70 590.07M488.60 351.73L487.01 352.26L485.95 353.85L485.42 356.50L485.42 358.09L485.95 360.74L487.01 362.33L488.60 362.86L489.66 362.86L491.25 362.33L492.31 360.74L492.84 358.09L492.84 356.50L492.31 353.85L491.25 352.26L489.66 351.73L488.60 351.73M497.08 361.80L496.55 362.33L497.08 362.86L497.61 362.33L497.08 361.80M503.97 351.73L502.38 352.26L501.85 353.32L501.85 354.38L502.38 355.44L503.44 355.97L505.56 356.50L507.15 357.03L508.21 358.09L508.74 359.15L508.74 360.74L508.21 361.80L507.68 362.33L506.09 362.86L503.97 362.86L502.38 362.33L501.85 361.80L501.32 360.74L501.32 359.15L501.85 358.09L502.91 357.03L504.50 356.50L506.62 355.97L507.68 355.44L508.21 354.38L508.21 353.32L507.68 352.26L506.09 351.73L503.97 351.73M488.60 384.77L487.01 385.30L485.95 386.89L485.42 389.54L485.42 391.13L485.95 393.78L487.01 395.37L488.60 395.90L489.66 395.90L491.25 395.37L492.31 393.78L492.84 391.13L492.84 389.54L492.31 386.89L491.25 385.30L489.66 384.77L488.60 384.77M497.08 394.84L496.55 395.37L497.08 395.90L497.61 395.37L497.08 394.84M508.21 386.36L507.68 385.30L506.09 384.77L505.03 384.77L503.44 385.30L502.38 386.89L501.85 389.54L501.85 392.19L502.38 394.31L503.44 395.37L505.03 395.90L505.56 395.90L507.15 395.37L508.21 394.31L508.74 392.72L508.74 392.19L508.21 390.60L507.15 389.54L505.56 389.01L505.03 389.01L503.44 389.54L502.38 390.60L501.85 392.19M488.60 422.31L487.01 422.84L485.95 424.43L485.42 427.08L485.42 428.67L485.95 431.32L487.01 432.91L488.60 433.44L489.66 433.44L491.25 432.91L492.31 431.32L492.84 428.67L492.84 427.08L492.31 424.43L491.25 422.84L489.66 422.31L488.60 422.31M497.08 432.38L496.55 432.91L497.08 433.44L497.61 432.91L497.08 432.38M506.62 422.31L501.32 429.73L509.27 429.73M506.62 422.31L506.62 433.44M488.60 459.85L487.01 460.38L485.95 461.97L485.42 464.62L485.42 466.21L485.95 468.86L487.01 470.45L488.60 470.98L489.66 470.98L491.25 470.45L492.31 468.86L492.84 466.21L492.84 464.62L492.31 461.97L491.25 460.38L489.66 459.85L488.60 459.85M497.08 469.92L496.55 470.45L497.08 470.98L497.61 470.45L497.08 469.92M501.85 462.50L501.85 461.97L502.38 460.91L502.91 460.38L503.97 459.85L506.09 459.85L507.15 460.38L507.68 460.91L508.21 461.97L508.21 463.03L507.68 464.09L506.62 465.68L501.32 470.98L508.74 470.98M488.60 497.39L487.01 497.92L485.95 499.51L485.42 502.16L485.42 503.75L485.95 506.40L487.01 507.99L488.60 508.52L489.66 508.52L491.25 507.99L492.31 506.40L492.84 503.75L492.84 502.16L492.31 499.51L491.25 497.92L489.66 497.39L488.60 497.39M497.08 507.46L496.55 507.99L497.08 508.52L497.61 507.99L497.08 507.46M504.50 497.39L502.91 497.92L501.85 499.51L501.32 502.16L501.32 503.75L501.85 506.40L502.91 507.99L504.50 508.52L505.56 508.52L507.15 507.99L508.21 506.40L508.74 503.75L508.74 502.16L508.21 499.51L507.15 497.92L505.56 497.39L504.50 497.39M472.17 541.29L481.71 541.29M488.60 534.93L487.01 535.46L485.95 537.05L485.42 539.70L485.42 541.29L485.95 543.94L487.01 545.53L488.60 546.06L489.66 546.06L491.25 545.53L492.31 543.94L492.84 541.29L492.84 539.70L492.31 537.05L491.25 535.46L489.66 534.93L488.60 534.93M497.08 545.00L496.55 545.53L497.08 546.06L497.61 545.53L497.08 545.00M501.85 537.58L501.85 537.05L502.38 535.99L502.91 535.46L503.97 534.93L506.09 534.93L507.15 535.46L507.68 535.99L508.21 537.05L508.21 538.11L507.68 539.17L506.62 540.76L501.32 546.06L508.74 546.06M472.17 572.53L481.71 572.53M488.60 566.17L487.01 566.70L485.95 568.29L485.42 570.94L485.42 572.53L485.95 575.18L487.01 576.77L488.60 577.30L489.66 577.30L491.25 576.77L492.31 575.18L492.84 572.53L492.84 570.94L492.31 568.29L491.25 566.70L489.66 566.17L488.60 566.17M497.08 576.24L496.55 576.77L497.08 577.30L497.61 576.77L497.08 576.24M506.62 566.17L501.32 573.59L509.27 573.59M506.62 566.17L506.62 577.30M630.25 608.75L630.25 625.71M630.77 608.75L630.77 625.71M630.25 608.75L633.96 608.75M630.25 625.71L633.96 625.71M644.55 610.87L637.13 622.00M637.13 610.87L644.55 610.87M637.13 622.00L644.55 622.00M648.26 614.58L648.26 622.00M648.26 616.70L649.86 615.11L650.91 614.58L652.50 614.58L653.56 615.11L654.10 616.70L654.10 622.00M666.82 608.75L657.27 625.71M670.00 610.87L670.00 622.00M677.41 610.87L677.41 622.00M670.00 616.17L677.41 616.17M684.30 608.75L684.30 625.71M684.83 608.75L684.83 625.71M681.12 608.75L684.83 608.75M681.12 625.71L684.83 625.71" class="t"/>
<path transform="translate(455.93 465.08) rotate(-90)" d="M-26.77 -13.25L-26.77 3.71M-26.23 -13.25L-26.23 3.71M-26.77 -13.25L-23.05 -13.25M-26.77 3.71L-23.05 3.71M-12.46 -9.54L-13.52 -10.60L-15.11 -11.13L-17.23 -11.13L-18.82 -10.60L-19.88 -9.54L-19.88 -8.48L-19.35 -7.42L-18.82 -6.89L-17.76 -6.36L-14.58 -5.30L-13.52 -4.77L-12.99 -4.24L-12.46 -3.18L-12.46 -1.59L-13.52 -0.53L-15.11 0.00L-17.23 0.00L-18.82 -0.53L-19.88 -1.59M-0.27 -13.25L-9.81 3.71M9.80 -11.13L2.38 0.00M2.38 -11.13L9.80 -11.13M2.38 0.00L9.80 0.00M13.52 -7.42L13.52 0.00M13.52 -5.30L15.11 -6.89L16.16 -7.42L17.75 -7.42L18.81 -6.89L19.34 -5.30L19.34 0.00M26.23 -13.25L26.23 3.71M26.77 -13.25L26.77 3.71M23.05 -13.25L26.77 -13.25M23.05 3.71L26.77 3.71" class="t"/>
<path d="M212.43 71.45L221.13 71.45M224.99 71.45L233.68 71.45M237.55 71.45L246.24 71.45M259.77 69.04L258.80 69.52L257.83 70.49L257.35 71.94L257.35 72.90L257.83 74.35L258.80 75.32L259.77 75.80L261.21 75.80L262.18 75.32L263.15 74.35L263.63 72.90L263.63 71.94L263.15 70.49L262.18 69.52L261.21 69.04L259.77 69.04M267.01 69.04L267.01 73.87L267.49 75.32L268.46 75.80L269.91 75.80L270.88 75.32L272.32 73.87M272.32 69.04L272.32 75.80M276.67 65.66L276.67 73.87L277.15 75.32L278.12 75.80L279.09 75.80M275.22 69.04L278.60 69.04M281.50 71.94L287.30 71.94L287.30 70.97L286.81 70.00L286.33 69.52L285.37 69.04L283.92 69.04L282.95 69.52L281.98 70.49L281.50 71.94L281.50 72.90L281.98 74.35L282.95 75.32L283.92 75.80L285.37 75.80L286.33 75.32L287.30 74.35M290.68 69.04L290.68 75.80M290.68 71.94L291.16 70.49L292.13 69.52L293.09 69.04L294.54 69.04M304.69 69.04L304.69 75.80M304.69 71.94L305.17 70.49L306.13 69.52L307.10 69.04L308.55 69.04M316.28 69.04L316.28 75.80M316.28 70.49L315.31 69.52L314.35 69.04L312.90 69.04L311.93 69.52L310.96 70.49L310.48 71.94L310.48 72.90L310.96 74.35L311.93 75.32L312.90 75.80L314.35 75.80L315.31 75.32L316.28 74.35M325.45 65.66L325.45 75.80M325.45 70.49L324.49 69.52L323.52 69.04L322.07 69.04L321.11 69.52L320.14 70.49L319.66 71.94L319.66 72.90L320.14 74.35L321.11 75.32L322.07 75.80L323.52 75.80L324.49 75.32L325.45 74.35M328.84 65.66L329.32 66.14L329.80 65.66L329.32 65.17L328.84 65.66M329.32 69.04L329.32 75.80M333.18 69.04L333.18 73.87L333.67 75.32L334.63 75.80L336.08 75.80L337.05 75.32L338.50 73.87M338.50 69.04L338.50 75.80M347.19 70.49L346.71 69.52L345.26 69.04L343.81 69.04L342.36 69.52L341.88 70.49L342.36 71.45L343.33 71.94L345.74 72.42L346.71 72.90L347.19 73.87L347.19 74.35L346.71 75.32L345.26 75.80L343.81 75.80L342.36 75.32L341.88 74.35" class="t" style="stroke:#19ccfb"/>
<path d="M213.22 105.03L212.73 105.52L213.22 106.00L213.70 105.52L213.22 105.03M218.05 105.03L217.56 105.52L218.05 106.00L218.53 105.52L218.05 105.03M222.88 105.03L222.39 105.52L222.88 106.00L223.36 105.52L222.88 105.03M227.71 105.03L227.22 105.52L227.71 106.00L228.19 105.52L227.71 105.03M232.54 105.03L232.05 105.52L232.54 106.00L233.02 105.52L232.54 105.03M237.37 105.03L236.88 105.52L237.37 106.00L237.85 105.52L237.37 105.03M242.20 105.03L241.71 105.52L242.20 106.00L242.68 105.52L242.20 105.03M247.03 105.03L246.54 105.52L247.03 106.00L247.51 105.52L247.03 105.03M258.62 95.86L259.10 96.34L259.58 95.86L259.10 95.37L258.62 95.86M259.10 99.24L259.10 106.00M262.96 99.24L262.96 106.00M262.96 101.17L264.41 99.72L265.38 99.24L266.83 99.24L267.79 99.72L268.28 101.17L268.28 106.00M272.14 99.24L272.14 106.00M272.14 101.17L273.59 99.72L274.56 99.24L276.01 99.24L276.97 99.72L277.45 101.17L277.45 106.00M280.84 102.14L286.63 102.14L286.63 101.17L286.15 100.20L285.67 99.72L284.70 99.24L283.25 99.24L282.28 99.72L281.32 100.69L280.84 102.14L280.84 103.10L281.32 104.55L282.28 105.52L283.25 106.00L284.70 106.00L285.67 105.52L286.63 104.55M290.01 99.24L290.01 106.00M290.01 102.14L290.50 100.69L291.46 99.72L292.43 99.24L293.88 99.24M304.02 99.24L304.02 106.00M304.02 102.14L304.50 100.69L305.47 99.72L306.43 99.24L307.88 99.24M315.61 99.24L315.61 106.00M315.61 100.69L314.65 99.72L313.68 99.24L312.23 99.24L311.26 99.72L310.30 100.69L309.82 102.14L309.82 103.10L310.30 104.55L311.26 105.52L312.23 106.00L313.68 106.00L314.65 105.52L315.61 104.55M324.79 95.86L324.79 106.00M324.79 100.69L323.82 99.72L322.86 99.24L321.41 99.24L320.44 99.72L319.48 100.69L318.99 102.14L318.99 103.10L319.48 104.55L320.44 105.52L321.41 106.00L322.86 106.00L323.82 105.52L324.79 104.55M328.17 95.86L328.65 96.34L329.14 95.86L328.65 95.37L328.17 95.86M328.65 99.24L328.65 106.00M332.52 99.24L332.52 104.07L333.00 105.52L333.97 106.00L335.41 106.00L336.38 105.52L337.83 104.07M337.83 99.24L337.83 106.00M346.52 100.69L346.04 99.72L344.59 99.24L343.14 99.24L341.69 99.72L341.21 100.69L341.69 101.65L342.66 102.14L345.07 102.62L346.04 103.10L346.52 104.07L346.52 104.55L346.04 105.52L344.59 106.00L343.14 106.00L341.69 105.52L341.21 104.55" class="t" style="stroke:#1212ff"/>
</svg>
</body></html>
